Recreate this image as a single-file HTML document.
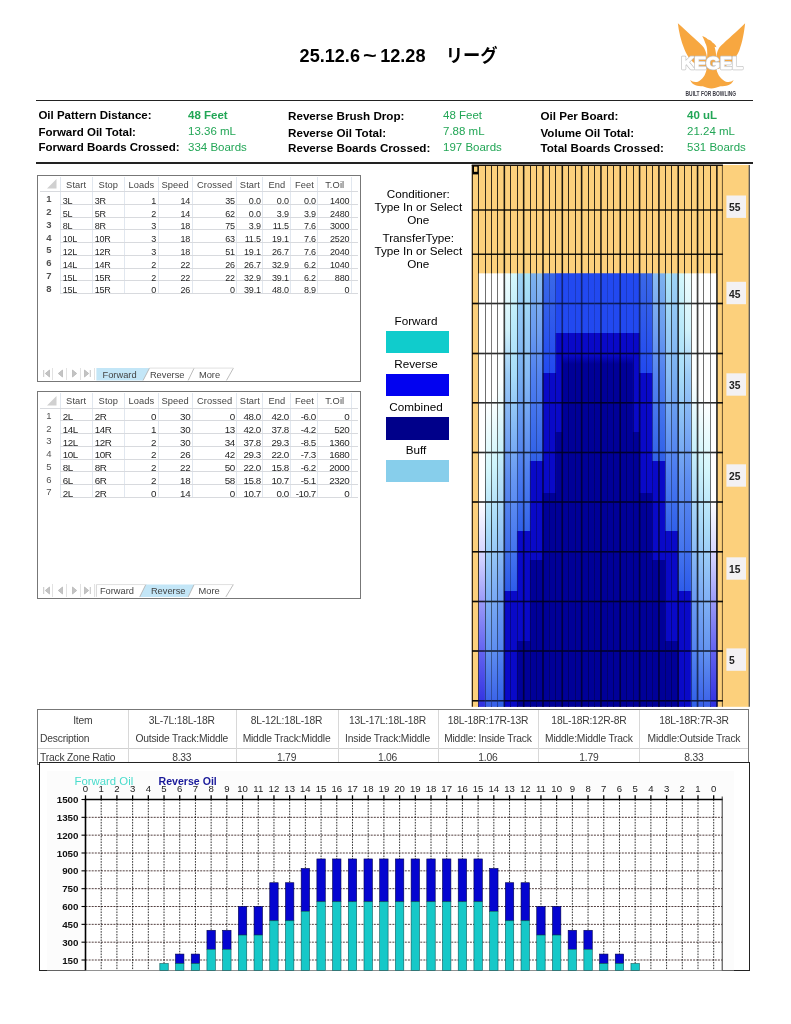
<!DOCTYPE html>
<html lang="ja"><head><meta charset="utf-8"><title>Kegel Oil Pattern</title>
<style>
html,body{margin:0;padding:0;background:#fff}
body{width:791px;height:1024px;position:relative;overflow:hidden;font-family:"Liberation Sans",sans-serif}

.title{position:absolute;left:0;top:44.1px;font:bold 18.1px "Liberation Sans","Noto Sans CJK JP",sans-serif;color:#000;white-space:nowrap;letter-spacing:0}
.title span{position:absolute;top:0;line-height:25px;transform:scaleY(1.05)}
.title .td{transform:scale(1.3,1.05);transform-origin:0 50%}
.title .jp{font-weight:bold;font-size:17.3px}
.rule{position:absolute;left:36.4px;width:716.5px;height:1.6px;background:#222}
.lab{position:absolute;font:bold 11.5px "Liberation Sans",sans-serif;color:#000;white-space:nowrap;line-height:15px}
.val{position:absolute;font:11.5px "Liberation Sans",sans-serif;color:#22a656;white-space:nowrap;line-height:15px}
.val.b{font-weight:bold}

.sheet{position:absolute;border:1px solid #777;background:#fff;box-sizing:border-box;overflow:hidden;font-family:"Liberation Sans",sans-serif;color:#333}
.sheet div{position:absolute;white-space:nowrap;line-height:12px;height:12px}
.sheet svg{position:absolute}
.hc{text-align:center;color:#444;font-size:9.3px;letter-spacing:0.1px}
.cl{text-align:left;padding-left:2.5px;box-sizing:border-box;color:#262626;font-size:9px}
.cr{text-align:right;padding-right:2.1px;box-sizing:border-box;color:#262626;font-size:9px}
.rn{text-align:center;color:#333;font-size:9.5px;font-weight:bold;-webkit-text-stroke:0;opacity:.85}
.sheet .vl{width:1px;background:#e1e7ef;height:auto}
.sheet .hl{height:1px;background:#d8dade}
.tab{font-size:9.3px;text-align:center;color:#444;line-height:13px !important;height:13px !important}
.sheet .thl{background:#c6e6f7;height:13px}
.sheet .nb{width:13.8px;height:12.4px;border-right:1px solid #e2e2e2;box-sizing:border-box}
.sheet .nb svg{left:2.5px;top:1.8px}

.ct{position:absolute;width:120px;text-align:center;font:11.7px "Liberation Sans",sans-serif;color:#000;line-height:15px;white-space:nowrap}
.sw{position:absolute;left:386.2px;width:62.9px}

.zt{position:absolute;border:1px solid #777;box-sizing:border-box;background:#fff}
.zh{position:absolute;height:1px;background:#d0d0d0}
.zv{position:absolute;width:1px;background:#d8d8d8}
.zc{position:absolute;font:10.3px "Liberation Sans",sans-serif;letter-spacing:-0.2px;color:#3c3c3c;text-align:center;line-height:14px;white-space:nowrap}
.cb{position:absolute;border:1.4px solid #222;box-sizing:border-box;background:#fff}
</style></head>
<body>
<!-- gen_head -->
<div class="title"><span style="left:299.6px">25.12.6</span><span class="td" style="left:363.2px">~</span><span style="left:380.2px">12.28</span><span class="jp" style="left:445.8px">リーグ</span></div>
<div class="rule" style="top:99.8px"></div>
<div class="rule" style="top:162.3px"></div>
<div class="lab" style="left:38.4px;top:108.1px;font-size:11.5px">Oil Pattern Distance:</div>
<div class="val b" style="left:188px;top:107.7px">48 Feet</div>
<div class="lab" style="left:288.0px;top:108.1px;font-size:11.65px">Reverse Brush Drop:</div>
<div class="val" style="left:443px;top:107.7px">48 Feet</div>
<div class="lab" style="left:540.5px;top:108.1px;font-size:11.6px">Oil Per Board:</div>
<div class="val b" style="left:687px;top:107.7px">40 uL</div>
<div class="lab" style="left:38.4px;top:124.6px;font-size:11.5px">Forward Oil Total:</div>
<div class="val" style="left:188px;top:123.6px">13.36 mL</div>
<div class="lab" style="left:288.0px;top:124.6px;font-size:11.65px">Reverse Oil Total:</div>
<div class="val" style="left:443px;top:123.6px">7.88 mL</div>
<div class="lab" style="left:540.5px;top:124.6px;font-size:11.6px">Volume Oil Total:</div>
<div class="val" style="left:687px;top:123.6px">21.24 mL</div>
<div class="lab" style="left:38.4px;top:140.2px;font-size:11.5px">Forward Boards Crossed:</div>
<div class="val" style="left:188px;top:140.1px">334 Boards</div>
<div class="lab" style="left:288.0px;top:140.2px;font-size:11.65px">Reverse Boards Crossed:</div>
<div class="val" style="left:443px;top:140.1px">197 Boards</div>
<div class="lab" style="left:540.5px;top:140.2px;font-size:11.6px">Total Boards Crossed:</div>
<div class="val" style="left:687px;top:140.1px">531 Boards</div>
<!-- gen_logo -->
<svg width="791" height="1024" viewBox="0 0 791 1024" style="position:absolute;left:0;top:0">
<g transform="translate(670 15) scale(0.10746)" fill="#f7a740">
<path d="M73 77C82 150 100 240 135 320C150 355 165 382 180 400C200 430 250 470 300 490L340 505L345 400C338 350 325 308 298 284C240 228 150 146 73 77Z"/>
<path d="M699 77C692 150 675 250 645 330C632 360 618 385 605 400C585 430 535 470 485 490L432 505L430 400C434 350 448 308 476 284C535 228 625 150 699 77Z"/>
<path d="M345 400C350 340 345 300 335 275C325 255 320 235 300 195C325 205 340 212 350 225C365 228 385 238 395 255C415 265 430 285 432 300L415 295C425 330 430 370 432 400Z"/>
<path d="M340 400L432 400L432 505C445 560 475 600 520 620C550 628 575 620 592 605C580 645 530 668 470 662C440 672 410 682 385 684C360 682 330 672 305 662C250 668 200 645 188 605C205 620 230 628 260 620C305 600 330 560 340 505Z"/>
</g>
<text x="681.3" y="69.2" font-family="Liberation Sans, sans-serif" font-weight="bold" font-size="17.2" textLength="61.5" lengthAdjust="spacingAndGlyphs" fill="#ffffff" stroke="#c2c2c2" stroke-width="2.3" stroke-linejoin="round">KEGEL</text>
<text x="681.3" y="69.2" font-family="Liberation Sans, sans-serif" font-weight="bold" font-size="17.2" textLength="61.5" lengthAdjust="spacingAndGlyphs" fill="#ffffff" stroke="#ffffff" stroke-width="1.0" stroke-linejoin="round">KEGEL</text>
<text x="685.6" y="96.2" font-family="Liberation Sans, sans-serif" font-weight="bold" font-size="6.8" textLength="50.5" lengthAdjust="spacingAndGlyphs" fill="#3a3a44">BUILT FOR BOWLING</text>
</svg>
<!-- gen_tables -->
<div class="sheet" style="left:37.2px;top:174.6px;width:324px;height:207.5px">
<svg class="corner" style="left:9.3px;top:3.5px" width="10" height="10"><path d="M9.5 0V9.5H0Z" fill="#d0d0d0"/></svg>
<div class="hc" style="left:22.0px;width:32.0px;top:3.0px">Start</div>
<div class="hc" style="left:54.0px;width:32.4px;top:3.0px">Stop</div>
<div class="hc" style="left:86.4px;width:33.5px;top:3.0px">Loads</div>
<div class="hc" style="left:119.9px;width:34.2px;top:3.0px">Speed</div>
<div class="hc" style="left:154.1px;width:44.7px;top:3.0px">Crossed</div>
<div class="hc" style="left:198.8px;width:25.9px;top:3.0px">Start</div>
<div class="hc" style="left:224.7px;width:28.0px;top:3.0px">End</div>
<div class="hc" style="left:252.7px;width:27.1px;top:3.0px">Feet</div>
<div class="hc" style="left:279.8px;width:33.4px;top:3.0px">T.Oil</div>
<div class="vl" style="left:21.5px;top:1.0px;height:117.1px"></div>
<div class="vl" style="left:53.5px;top:1.0px;height:117.1px"></div>
<div class="vl" style="left:85.9px;top:1.0px;height:117.1px"></div>
<div class="vl" style="left:119.4px;top:1.0px;height:117.1px"></div>
<div class="vl" style="left:153.6px;top:1.0px;height:117.1px"></div>
<div class="vl" style="left:198.3px;top:1.0px;height:117.1px"></div>
<div class="vl" style="left:224.2px;top:1.0px;height:117.1px"></div>
<div class="vl" style="left:252.2px;top:1.0px;height:117.1px"></div>
<div class="vl" style="left:279.3px;top:1.0px;height:117.1px"></div>
<div class="vl" style="left:312.7px;top:1.0px;height:117.1px"></div>
<div class="hl" style="left:1.8px;top:15.45px;width:318.5px"></div>
<div class="hl" style="left:22.0px;top:28.22px;width:298.3px"></div>
<div class="hl" style="left:22.0px;top:40.99px;width:298.3px"></div>
<div class="hl" style="left:22.0px;top:53.76px;width:298.3px"></div>
<div class="hl" style="left:22.0px;top:66.53px;width:298.3px"></div>
<div class="hl" style="left:22.0px;top:79.3px;width:298.3px"></div>
<div class="hl" style="left:22.0px;top:92.07px;width:298.3px"></div>
<div class="hl" style="left:22.0px;top:104.84px;width:298.3px"></div>
<div class="hl" style="left:22.0px;top:117.61px;width:298.3px"></div>
<div class="rn" style="left:1.8px;width:18px;top:17.72px;font-weight:bold">1</div>
<div class="cl" style="left:22.0px;width:32.0px;top:19.35px;font-size:9px;letter-spacing:-0.2px">3L</div>
<div class="cl" style="left:54.0px;width:32.4px;top:19.35px;font-size:9px;letter-spacing:-0.2px">3R</div>
<div class="cr" style="left:86.4px;width:33.5px;top:19.35px;font-size:9px;letter-spacing:-0.2px">1</div>
<div class="cr" style="left:119.9px;width:34.2px;top:19.35px;font-size:9px;letter-spacing:-0.2px">14</div>
<div class="cr" style="left:154.1px;width:44.7px;top:19.35px;font-size:9px;letter-spacing:-0.2px">35</div>
<div class="cr" style="left:198.8px;width:25.9px;top:19.35px;font-size:9px;letter-spacing:-0.2px">0.0</div>
<div class="cr" style="left:224.7px;width:28.0px;top:19.35px;font-size:9px;letter-spacing:-0.2px">0.0</div>
<div class="cr" style="left:252.7px;width:27.1px;top:19.35px;font-size:9px;letter-spacing:-0.2px">0.0</div>
<div class="cr" style="left:279.8px;width:33.4px;top:19.35px;font-size:9px;letter-spacing:-0.2px">1400</div>
<div class="rn" style="left:1.8px;width:18px;top:30.49px;font-weight:bold">2</div>
<div class="cl" style="left:22.0px;width:32.0px;top:32.12px;font-size:9px;letter-spacing:-0.2px">5L</div>
<div class="cl" style="left:54.0px;width:32.4px;top:32.12px;font-size:9px;letter-spacing:-0.2px">5R</div>
<div class="cr" style="left:86.4px;width:33.5px;top:32.12px;font-size:9px;letter-spacing:-0.2px">2</div>
<div class="cr" style="left:119.9px;width:34.2px;top:32.12px;font-size:9px;letter-spacing:-0.2px">14</div>
<div class="cr" style="left:154.1px;width:44.7px;top:32.12px;font-size:9px;letter-spacing:-0.2px">62</div>
<div class="cr" style="left:198.8px;width:25.9px;top:32.12px;font-size:9px;letter-spacing:-0.2px">0.0</div>
<div class="cr" style="left:224.7px;width:28.0px;top:32.12px;font-size:9px;letter-spacing:-0.2px">3.9</div>
<div class="cr" style="left:252.7px;width:27.1px;top:32.12px;font-size:9px;letter-spacing:-0.2px">3.9</div>
<div class="cr" style="left:279.8px;width:33.4px;top:32.12px;font-size:9px;letter-spacing:-0.2px">2480</div>
<div class="rn" style="left:1.8px;width:18px;top:43.26px;font-weight:bold">3</div>
<div class="cl" style="left:22.0px;width:32.0px;top:44.89px;font-size:9px;letter-spacing:-0.2px">8L</div>
<div class="cl" style="left:54.0px;width:32.4px;top:44.89px;font-size:9px;letter-spacing:-0.2px">8R</div>
<div class="cr" style="left:86.4px;width:33.5px;top:44.89px;font-size:9px;letter-spacing:-0.2px">3</div>
<div class="cr" style="left:119.9px;width:34.2px;top:44.89px;font-size:9px;letter-spacing:-0.2px">18</div>
<div class="cr" style="left:154.1px;width:44.7px;top:44.89px;font-size:9px;letter-spacing:-0.2px">75</div>
<div class="cr" style="left:198.8px;width:25.9px;top:44.89px;font-size:9px;letter-spacing:-0.2px">3.9</div>
<div class="cr" style="left:224.7px;width:28.0px;top:44.89px;font-size:9px;letter-spacing:-0.2px">11.5</div>
<div class="cr" style="left:252.7px;width:27.1px;top:44.89px;font-size:9px;letter-spacing:-0.2px">7.6</div>
<div class="cr" style="left:279.8px;width:33.4px;top:44.89px;font-size:9px;letter-spacing:-0.2px">3000</div>
<div class="rn" style="left:1.8px;width:18px;top:56.03px;font-weight:bold">4</div>
<div class="cl" style="left:22.0px;width:32.0px;top:57.66px;font-size:9px;letter-spacing:-0.2px">10L</div>
<div class="cl" style="left:54.0px;width:32.4px;top:57.66px;font-size:9px;letter-spacing:-0.2px">10R</div>
<div class="cr" style="left:86.4px;width:33.5px;top:57.66px;font-size:9px;letter-spacing:-0.2px">3</div>
<div class="cr" style="left:119.9px;width:34.2px;top:57.66px;font-size:9px;letter-spacing:-0.2px">18</div>
<div class="cr" style="left:154.1px;width:44.7px;top:57.66px;font-size:9px;letter-spacing:-0.2px">63</div>
<div class="cr" style="left:198.8px;width:25.9px;top:57.66px;font-size:9px;letter-spacing:-0.2px">11.5</div>
<div class="cr" style="left:224.7px;width:28.0px;top:57.66px;font-size:9px;letter-spacing:-0.2px">19.1</div>
<div class="cr" style="left:252.7px;width:27.1px;top:57.66px;font-size:9px;letter-spacing:-0.2px">7.6</div>
<div class="cr" style="left:279.8px;width:33.4px;top:57.66px;font-size:9px;letter-spacing:-0.2px">2520</div>
<div class="rn" style="left:1.8px;width:18px;top:68.8px;font-weight:bold">5</div>
<div class="cl" style="left:22.0px;width:32.0px;top:70.43px;font-size:9px;letter-spacing:-0.2px">12L</div>
<div class="cl" style="left:54.0px;width:32.4px;top:70.43px;font-size:9px;letter-spacing:-0.2px">12R</div>
<div class="cr" style="left:86.4px;width:33.5px;top:70.43px;font-size:9px;letter-spacing:-0.2px">3</div>
<div class="cr" style="left:119.9px;width:34.2px;top:70.43px;font-size:9px;letter-spacing:-0.2px">18</div>
<div class="cr" style="left:154.1px;width:44.7px;top:70.43px;font-size:9px;letter-spacing:-0.2px">51</div>
<div class="cr" style="left:198.8px;width:25.9px;top:70.43px;font-size:9px;letter-spacing:-0.2px">19.1</div>
<div class="cr" style="left:224.7px;width:28.0px;top:70.43px;font-size:9px;letter-spacing:-0.2px">26.7</div>
<div class="cr" style="left:252.7px;width:27.1px;top:70.43px;font-size:9px;letter-spacing:-0.2px">7.6</div>
<div class="cr" style="left:279.8px;width:33.4px;top:70.43px;font-size:9px;letter-spacing:-0.2px">2040</div>
<div class="rn" style="left:1.8px;width:18px;top:81.57px;font-weight:bold">6</div>
<div class="cl" style="left:22.0px;width:32.0px;top:83.2px;font-size:9px;letter-spacing:-0.2px">14L</div>
<div class="cl" style="left:54.0px;width:32.4px;top:83.2px;font-size:9px;letter-spacing:-0.2px">14R</div>
<div class="cr" style="left:86.4px;width:33.5px;top:83.2px;font-size:9px;letter-spacing:-0.2px">2</div>
<div class="cr" style="left:119.9px;width:34.2px;top:83.2px;font-size:9px;letter-spacing:-0.2px">22</div>
<div class="cr" style="left:154.1px;width:44.7px;top:83.2px;font-size:9px;letter-spacing:-0.2px">26</div>
<div class="cr" style="left:198.8px;width:25.9px;top:83.2px;font-size:9px;letter-spacing:-0.2px">26.7</div>
<div class="cr" style="left:224.7px;width:28.0px;top:83.2px;font-size:9px;letter-spacing:-0.2px">32.9</div>
<div class="cr" style="left:252.7px;width:27.1px;top:83.2px;font-size:9px;letter-spacing:-0.2px">6.2</div>
<div class="cr" style="left:279.8px;width:33.4px;top:83.2px;font-size:9px;letter-spacing:-0.2px">1040</div>
<div class="rn" style="left:1.8px;width:18px;top:94.34px;font-weight:bold">7</div>
<div class="cl" style="left:22.0px;width:32.0px;top:95.97px;font-size:9px;letter-spacing:-0.2px">15L</div>
<div class="cl" style="left:54.0px;width:32.4px;top:95.97px;font-size:9px;letter-spacing:-0.2px">15R</div>
<div class="cr" style="left:86.4px;width:33.5px;top:95.97px;font-size:9px;letter-spacing:-0.2px">2</div>
<div class="cr" style="left:119.9px;width:34.2px;top:95.97px;font-size:9px;letter-spacing:-0.2px">22</div>
<div class="cr" style="left:154.1px;width:44.7px;top:95.97px;font-size:9px;letter-spacing:-0.2px">22</div>
<div class="cr" style="left:198.8px;width:25.9px;top:95.97px;font-size:9px;letter-spacing:-0.2px">32.9</div>
<div class="cr" style="left:224.7px;width:28.0px;top:95.97px;font-size:9px;letter-spacing:-0.2px">39.1</div>
<div class="cr" style="left:252.7px;width:27.1px;top:95.97px;font-size:9px;letter-spacing:-0.2px">6.2</div>
<div class="cr" style="left:279.8px;width:33.4px;top:95.97px;font-size:9px;letter-spacing:-0.2px">880</div>
<div class="rn" style="left:1.8px;width:18px;top:107.11px;font-weight:bold">8</div>
<div class="cl" style="left:22.0px;width:32.0px;top:108.74px;font-size:9px;letter-spacing:-0.2px">15L</div>
<div class="cl" style="left:54.0px;width:32.4px;top:108.74px;font-size:9px;letter-spacing:-0.2px">15R</div>
<div class="cr" style="left:86.4px;width:33.5px;top:108.74px;font-size:9px;letter-spacing:-0.2px">0</div>
<div class="cr" style="left:119.9px;width:34.2px;top:108.74px;font-size:9px;letter-spacing:-0.2px">26</div>
<div class="cr" style="left:154.1px;width:44.7px;top:108.74px;font-size:9px;letter-spacing:-0.2px">0</div>
<div class="cr" style="left:198.8px;width:25.9px;top:108.74px;font-size:9px;letter-spacing:-0.2px">39.1</div>
<div class="cr" style="left:224.7px;width:28.0px;top:108.74px;font-size:9px;letter-spacing:-0.2px">48.0</div>
<div class="cr" style="left:252.7px;width:27.1px;top:108.74px;font-size:9px;letter-spacing:-0.2px">8.9</div>
<div class="cr" style="left:279.8px;width:33.4px;top:108.74px;font-size:9px;letter-spacing:-0.2px">0</div>
<div class="nb" style="left:1.4px;top:192.1px"><svg width="9" height="9" viewBox="0 0 8 9"><path d="M1.2 1V8M7 1L2.8 4.5L7 8Z" fill="#c4c4c4" stroke="#b8b8b8" stroke-width="0.8"/></svg></div>
<div class="nb" style="left:15.2px;top:192.1px"><svg width="9" height="9" viewBox="0 0 8 9"><path d="M6 1L1.8 4.5L6 8Z" fill="#c4c4c4" stroke="#b8b8b8" stroke-width="0.8"/></svg></div>
<div class="nb" style="left:29.0px;top:192.1px"><svg width="9" height="9" viewBox="0 0 8 9"><path d="M2 1L6.2 4.5L2 8Z" fill="#c4c4c4" stroke="#b8b8b8" stroke-width="0.8"/></svg></div>
<div class="nb" style="left:42.8px;top:192.1px"><svg width="9" height="9" viewBox="0 0 8 9"><path d="M6.8 1V8M1 1L5.2 4.5L1 8Z" fill="#c4c4c4" stroke="#b8b8b8" stroke-width="0.8"/></svg></div>
<svg style="left:0;top:0" width="324" height="207.5" viewBox="0 0 324 207.5"><polygon points="58.4,192.1 111.5,192.1 105.1,204.4 58.4,204.4" fill="#c3e6f7"/><line x1="105.1" y1="204.4" x2="111.5" y2="192.1" stroke="#b4b4b4" stroke-width="0.9"/><line x1="150.2" y1="204.4" x2="156.1" y2="192.1" stroke="#b4b4b4" stroke-width="0.9"/><line x1="188.5" y1="204.4" x2="195.4" y2="192.1" stroke="#b4b4b4" stroke-width="0.9"/><line x1="111.5" y1="192.1" x2="156.1" y2="192.1" stroke="#dcdcdc" stroke-width="0.9"/><line x1="156.1" y1="192.1" x2="195.4" y2="192.1" stroke="#dcdcdc" stroke-width="0.9"/></svg>
<div class="tab" style="left:56.4px;top:193.1px;width:50px">Forward</div>
<div class="tab" style="left:104.0px;top:193.1px;width:50px">Reverse</div>
<div class="tab" style="left:146.3px;top:193.1px;width:50px">More</div>
</div>
<div class="sheet" style="left:37.2px;top:390.8px;width:324px;height:208.7px">
<svg class="corner" style="left:9.3px;top:3.9px" width="10" height="10"><path d="M9.5 0V9.5H0Z" fill="#d0d0d0"/></svg>
<div class="hc" style="left:22.0px;width:32.0px;top:3.4px">Start</div>
<div class="hc" style="left:54.0px;width:32.4px;top:3.4px">Stop</div>
<div class="hc" style="left:86.4px;width:33.5px;top:3.4px">Loads</div>
<div class="hc" style="left:119.9px;width:34.2px;top:3.4px">Speed</div>
<div class="hc" style="left:154.1px;width:44.7px;top:3.4px">Crossed</div>
<div class="hc" style="left:198.8px;width:25.9px;top:3.4px">Start</div>
<div class="hc" style="left:224.7px;width:28.0px;top:3.4px">End</div>
<div class="hc" style="left:252.7px;width:27.1px;top:3.4px">Feet</div>
<div class="hc" style="left:279.8px;width:33.4px;top:3.4px">T.Oil</div>
<div class="vl" style="left:21.5px;top:1.0px;height:104.6px"></div>
<div class="vl" style="left:53.5px;top:1.0px;height:104.6px"></div>
<div class="vl" style="left:85.9px;top:1.0px;height:104.6px"></div>
<div class="vl" style="left:119.4px;top:1.0px;height:104.6px"></div>
<div class="vl" style="left:153.6px;top:1.0px;height:104.6px"></div>
<div class="vl" style="left:198.3px;top:1.0px;height:104.6px"></div>
<div class="vl" style="left:224.2px;top:1.0px;height:104.6px"></div>
<div class="vl" style="left:252.2px;top:1.0px;height:104.6px"></div>
<div class="vl" style="left:279.3px;top:1.0px;height:104.6px"></div>
<div class="vl" style="left:312.7px;top:1.0px;height:104.6px"></div>
<div class="hl" style="left:1.8px;top:15.75px;width:318.5px"></div>
<div class="hl" style="left:22.0px;top:28.52px;width:298.3px"></div>
<div class="hl" style="left:22.0px;top:41.29px;width:298.3px"></div>
<div class="hl" style="left:22.0px;top:54.06px;width:298.3px"></div>
<div class="hl" style="left:22.0px;top:66.83px;width:298.3px"></div>
<div class="hl" style="left:22.0px;top:79.6px;width:298.3px"></div>
<div class="hl" style="left:22.0px;top:92.37px;width:298.3px"></div>
<div class="hl" style="left:22.0px;top:105.14px;width:298.3px"></div>
<div class="rn" style="left:1.8px;width:18px;top:18.02px;font-weight:normal">1</div>
<div class="cl" style="left:22.0px;width:32.0px;top:19.37px;font-size:9.8px;letter-spacing:-0.42px">2L</div>
<div class="cl" style="left:54.0px;width:32.4px;top:19.37px;font-size:9.8px;letter-spacing:-0.42px">2R</div>
<div class="cr" style="left:86.4px;width:33.5px;top:19.37px;font-size:9.8px;letter-spacing:-0.42px">0</div>
<div class="cr" style="left:119.9px;width:34.2px;top:19.37px;font-size:9.8px;letter-spacing:-0.42px">30</div>
<div class="cr" style="left:154.1px;width:44.7px;top:19.37px;font-size:9.8px;letter-spacing:-0.42px">0</div>
<div class="cr" style="left:198.8px;width:25.9px;top:19.37px;font-size:9.8px;letter-spacing:-0.42px">48.0</div>
<div class="cr" style="left:224.7px;width:28.0px;top:19.37px;font-size:9.8px;letter-spacing:-0.42px">42.0</div>
<div class="cr" style="left:252.7px;width:27.1px;top:19.37px;font-size:9.8px;letter-spacing:-0.42px">-6.0</div>
<div class="cr" style="left:279.8px;width:33.4px;top:19.37px;font-size:9.8px;letter-spacing:-0.42px">0</div>
<div class="rn" style="left:1.8px;width:18px;top:30.79px;font-weight:normal">2</div>
<div class="cl" style="left:22.0px;width:32.0px;top:32.14px;font-size:9.8px;letter-spacing:-0.42px">14L</div>
<div class="cl" style="left:54.0px;width:32.4px;top:32.14px;font-size:9.8px;letter-spacing:-0.42px">14R</div>
<div class="cr" style="left:86.4px;width:33.5px;top:32.14px;font-size:9.8px;letter-spacing:-0.42px">1</div>
<div class="cr" style="left:119.9px;width:34.2px;top:32.14px;font-size:9.8px;letter-spacing:-0.42px">30</div>
<div class="cr" style="left:154.1px;width:44.7px;top:32.14px;font-size:9.8px;letter-spacing:-0.42px">13</div>
<div class="cr" style="left:198.8px;width:25.9px;top:32.14px;font-size:9.8px;letter-spacing:-0.42px">42.0</div>
<div class="cr" style="left:224.7px;width:28.0px;top:32.14px;font-size:9.8px;letter-spacing:-0.42px">37.8</div>
<div class="cr" style="left:252.7px;width:27.1px;top:32.14px;font-size:9.8px;letter-spacing:-0.42px">-4.2</div>
<div class="cr" style="left:279.8px;width:33.4px;top:32.14px;font-size:9.8px;letter-spacing:-0.42px">520</div>
<div class="rn" style="left:1.8px;width:18px;top:43.56px;font-weight:normal">3</div>
<div class="cl" style="left:22.0px;width:32.0px;top:44.91px;font-size:9.8px;letter-spacing:-0.42px">12L</div>
<div class="cl" style="left:54.0px;width:32.4px;top:44.91px;font-size:9.8px;letter-spacing:-0.42px">12R</div>
<div class="cr" style="left:86.4px;width:33.5px;top:44.91px;font-size:9.8px;letter-spacing:-0.42px">2</div>
<div class="cr" style="left:119.9px;width:34.2px;top:44.91px;font-size:9.8px;letter-spacing:-0.42px">30</div>
<div class="cr" style="left:154.1px;width:44.7px;top:44.91px;font-size:9.8px;letter-spacing:-0.42px">34</div>
<div class="cr" style="left:198.8px;width:25.9px;top:44.91px;font-size:9.8px;letter-spacing:-0.42px">37.8</div>
<div class="cr" style="left:224.7px;width:28.0px;top:44.91px;font-size:9.8px;letter-spacing:-0.42px">29.3</div>
<div class="cr" style="left:252.7px;width:27.1px;top:44.91px;font-size:9.8px;letter-spacing:-0.42px">-8.5</div>
<div class="cr" style="left:279.8px;width:33.4px;top:44.91px;font-size:9.8px;letter-spacing:-0.42px">1360</div>
<div class="rn" style="left:1.8px;width:18px;top:56.33px;font-weight:normal">4</div>
<div class="cl" style="left:22.0px;width:32.0px;top:57.68px;font-size:9.8px;letter-spacing:-0.42px">10L</div>
<div class="cl" style="left:54.0px;width:32.4px;top:57.68px;font-size:9.8px;letter-spacing:-0.42px">10R</div>
<div class="cr" style="left:86.4px;width:33.5px;top:57.68px;font-size:9.8px;letter-spacing:-0.42px">2</div>
<div class="cr" style="left:119.9px;width:34.2px;top:57.68px;font-size:9.8px;letter-spacing:-0.42px">26</div>
<div class="cr" style="left:154.1px;width:44.7px;top:57.68px;font-size:9.8px;letter-spacing:-0.42px">42</div>
<div class="cr" style="left:198.8px;width:25.9px;top:57.68px;font-size:9.8px;letter-spacing:-0.42px">29.3</div>
<div class="cr" style="left:224.7px;width:28.0px;top:57.68px;font-size:9.8px;letter-spacing:-0.42px">22.0</div>
<div class="cr" style="left:252.7px;width:27.1px;top:57.68px;font-size:9.8px;letter-spacing:-0.42px">-7.3</div>
<div class="cr" style="left:279.8px;width:33.4px;top:57.68px;font-size:9.8px;letter-spacing:-0.42px">1680</div>
<div class="rn" style="left:1.8px;width:18px;top:69.1px;font-weight:normal">5</div>
<div class="cl" style="left:22.0px;width:32.0px;top:70.45px;font-size:9.8px;letter-spacing:-0.42px">8L</div>
<div class="cl" style="left:54.0px;width:32.4px;top:70.45px;font-size:9.8px;letter-spacing:-0.42px">8R</div>
<div class="cr" style="left:86.4px;width:33.5px;top:70.45px;font-size:9.8px;letter-spacing:-0.42px">2</div>
<div class="cr" style="left:119.9px;width:34.2px;top:70.45px;font-size:9.8px;letter-spacing:-0.42px">22</div>
<div class="cr" style="left:154.1px;width:44.7px;top:70.45px;font-size:9.8px;letter-spacing:-0.42px">50</div>
<div class="cr" style="left:198.8px;width:25.9px;top:70.45px;font-size:9.8px;letter-spacing:-0.42px">22.0</div>
<div class="cr" style="left:224.7px;width:28.0px;top:70.45px;font-size:9.8px;letter-spacing:-0.42px">15.8</div>
<div class="cr" style="left:252.7px;width:27.1px;top:70.45px;font-size:9.8px;letter-spacing:-0.42px">-6.2</div>
<div class="cr" style="left:279.8px;width:33.4px;top:70.45px;font-size:9.8px;letter-spacing:-0.42px">2000</div>
<div class="rn" style="left:1.8px;width:18px;top:81.87px;font-weight:normal">6</div>
<div class="cl" style="left:22.0px;width:32.0px;top:83.22px;font-size:9.8px;letter-spacing:-0.42px">6L</div>
<div class="cl" style="left:54.0px;width:32.4px;top:83.22px;font-size:9.8px;letter-spacing:-0.42px">6R</div>
<div class="cr" style="left:86.4px;width:33.5px;top:83.22px;font-size:9.8px;letter-spacing:-0.42px">2</div>
<div class="cr" style="left:119.9px;width:34.2px;top:83.22px;font-size:9.8px;letter-spacing:-0.42px">18</div>
<div class="cr" style="left:154.1px;width:44.7px;top:83.22px;font-size:9.8px;letter-spacing:-0.42px">58</div>
<div class="cr" style="left:198.8px;width:25.9px;top:83.22px;font-size:9.8px;letter-spacing:-0.42px">15.8</div>
<div class="cr" style="left:224.7px;width:28.0px;top:83.22px;font-size:9.8px;letter-spacing:-0.42px">10.7</div>
<div class="cr" style="left:252.7px;width:27.1px;top:83.22px;font-size:9.8px;letter-spacing:-0.42px">-5.1</div>
<div class="cr" style="left:279.8px;width:33.4px;top:83.22px;font-size:9.8px;letter-spacing:-0.42px">2320</div>
<div class="rn" style="left:1.8px;width:18px;top:94.64px;font-weight:normal">7</div>
<div class="cl" style="left:22.0px;width:32.0px;top:95.99px;font-size:9.8px;letter-spacing:-0.42px">2L</div>
<div class="cl" style="left:54.0px;width:32.4px;top:95.99px;font-size:9.8px;letter-spacing:-0.42px">2R</div>
<div class="cr" style="left:86.4px;width:33.5px;top:95.99px;font-size:9.8px;letter-spacing:-0.42px">0</div>
<div class="cr" style="left:119.9px;width:34.2px;top:95.99px;font-size:9.8px;letter-spacing:-0.42px">14</div>
<div class="cr" style="left:154.1px;width:44.7px;top:95.99px;font-size:9.8px;letter-spacing:-0.42px">0</div>
<div class="cr" style="left:198.8px;width:25.9px;top:95.99px;font-size:9.8px;letter-spacing:-0.42px">10.7</div>
<div class="cr" style="left:224.7px;width:28.0px;top:95.99px;font-size:9.8px;letter-spacing:-0.42px">0.0</div>
<div class="cr" style="left:252.7px;width:27.1px;top:95.99px;font-size:9.8px;letter-spacing:-0.42px">-10.7</div>
<div class="cr" style="left:279.8px;width:33.4px;top:95.99px;font-size:9.8px;letter-spacing:-0.42px">0</div>
<div class="nb" style="left:1.4px;top:192.6px"><svg width="9" height="9" viewBox="0 0 8 9"><path d="M1.2 1V8M7 1L2.8 4.5L7 8Z" fill="#c4c4c4" stroke="#b8b8b8" stroke-width="0.8"/></svg></div>
<div class="nb" style="left:15.2px;top:192.6px"><svg width="9" height="9" viewBox="0 0 8 9"><path d="M6 1L1.8 4.5L6 8Z" fill="#c4c4c4" stroke="#b8b8b8" stroke-width="0.8"/></svg></div>
<div class="nb" style="left:29.0px;top:192.6px"><svg width="9" height="9" viewBox="0 0 8 9"><path d="M2 1L6.2 4.5L2 8Z" fill="#c4c4c4" stroke="#b8b8b8" stroke-width="0.8"/></svg></div>
<div class="nb" style="left:42.8px;top:192.6px"><svg width="9" height="9" viewBox="0 0 8 9"><path d="M6.8 1V8M1 1L5.2 4.5L1 8Z" fill="#c4c4c4" stroke="#b8b8b8" stroke-width="0.8"/></svg></div>
<svg style="left:0;top:0" width="324" height="208.7" viewBox="0 0 324 208.7"><polygon points="107.8,192.6 156.1,192.6 150.2,204.9 101.7,204.9" fill="#c3e6f7"/><line x1="101.7" y1="204.9" x2="107.8" y2="192.6" stroke="#b4b4b4" stroke-width="0.9"/><line x1="150.2" y1="204.9" x2="156.1" y2="192.6" stroke="#b4b4b4" stroke-width="0.9"/><line x1="187.9" y1="204.9" x2="195.3" y2="192.6" stroke="#b4b4b4" stroke-width="0.9"/><line x1="58.4" y1="192.6" x2="107.8" y2="192.6" stroke="#dcdcdc" stroke-width="0.9"/><line x1="156.1" y1="192.6" x2="195.3" y2="192.6" stroke="#dcdcdc" stroke-width="0.9"/><line x1="58.4" y1="192.6" x2="58.4" y2="204.9" stroke="#d0d0d0" stroke-width="0.9"/></svg>
<div class="tab" style="left:53.8px;top:193.6px;width:50px">Forward</div>
<div class="tab" style="left:105.0px;top:193.6px;width:50px">Reverse</div>
<div class="tab" style="left:146.0px;top:193.6px;width:50px">More</div>
</div>
<!-- gen_mid -->
<div class="ct" style="left:358.3px;top:186.2px">Conditioner:</div>
<div class="ct" style="left:358.3px;top:199.2px">Type In or Select</div>
<div class="ct" style="left:358.3px;top:211.8px">One</div>
<div class="ct" style="left:358.3px;top:229.7px">TransferType:</div>
<div class="ct" style="left:358.3px;top:243.4px">Type In or Select</div>
<div class="ct" style="left:358.3px;top:255.9px">One</div>
<div class="ct" style="left:356px;top:313.2px">Forward</div>
<div class="sw" style="top:331.2px;height:21.7px;background:#10cccc"></div>
<div class="ct" style="left:356px;top:355.6px">Reverse</div>
<div class="sw" style="top:373.7px;height:22.0px;background:#0202f0"></div>
<div class="ct" style="left:356px;top:399.0px">Combined</div>
<div class="sw" style="top:417.4px;height:22.2px;background:#00008a"></div>
<div class="ct" style="left:356px;top:441.8px">Buff</div>
<div class="sw" style="top:459.5px;height:22.2px;background:#87ceeb"></div>
<!-- gen_lane -->
<svg class="lane" width="791" height="1024" viewBox="0 0 791 1024" style="position:absolute;left:0;top:0">
<defs>
<linearGradient id="g2" gradientUnits="userSpaceOnUse" x1="0" y1="273.4" x2="0" y2="706.0">
<stop offset="0.0000" stop-color="#ffffff"/>
<stop offset="0.5238" stop-color="#ffffff"/>
<stop offset="0.6625" stop-color="#d0d0ff"/>
<stop offset="0.7550" stop-color="#9c9cf8"/>
<stop offset="0.8706" stop-color="#6464f0"/>
<stop offset="1.0000" stop-color="#3030e0"/>
</linearGradient>
<linearGradient id="g3" gradientUnits="userSpaceOnUse" x1="0" y1="273.4" x2="0" y2="706.0">
<stop offset="0.0000" stop-color="#ffffff"/>
<stop offset="0.2926" stop-color="#ffffff"/>
<stop offset="0.4545" stop-color="#d4f7fc"/>
<stop offset="0.5932" stop-color="#aadcf8"/>
<stop offset="0.7319" stop-color="#86b6f6"/>
<stop offset="0.8706" stop-color="#6494f0"/>
<stop offset="1.0000" stop-color="#3a60e8"/>
</linearGradient>
<linearGradient id="g4" gradientUnits="userSpaceOnUse" x1="0" y1="273.4" x2="0" y2="706.0">
<stop offset="0.0000" stop-color="#ffffff"/>
<stop offset="0.2811" stop-color="#ffffff"/>
<stop offset="0.4429" stop-color="#cef4fb"/>
<stop offset="0.5932" stop-color="#a4d6f8"/>
<stop offset="0.7319" stop-color="#7eaef4"/>
<stop offset="0.8706" stop-color="#5e8ef0"/>
<stop offset="1.0000" stop-color="#3860e8"/>
</linearGradient>
<linearGradient id="g5" gradientUnits="userSpaceOnUse" x1="0" y1="273.4" x2="0" y2="706.0">
<stop offset="0.0000" stop-color="#ffffff"/>
<stop offset="0.2464" stop-color="#fbffff"/>
<stop offset="0.4082" stop-color="#c8f0fa"/>
<stop offset="0.5932" stop-color="#98c8f6"/>
<stop offset="0.7319" stop-color="#70a0f2"/>
<stop offset="0.8706" stop-color="#5484f0"/>
<stop offset="1.0000" stop-color="#3060e8"/>
</linearGradient>
<linearGradient id="g6" gradientUnits="userSpaceOnUse" x1="0" y1="273.4" x2="0" y2="706.0">
<stop offset="0.0000" stop-color="#eefdfe"/>
<stop offset="0.1308" stop-color="#d0f2fb"/>
<stop offset="0.2349" stop-color="#9cccf6"/>
<stop offset="0.3620" stop-color="#7aaaf4"/>
<stop offset="0.4776" stop-color="#5c8cf0"/>
<stop offset="0.6625" stop-color="#3c6aec"/>
<stop offset="0.7353" stop-color="#2c5aea"/>
<stop offset="0.7353" stop-color="#0909c8"/>
<stop offset="1.0000" stop-color="#0909c8"/>
</linearGradient>
<linearGradient id="g7" gradientUnits="userSpaceOnUse" x1="0" y1="273.4" x2="0" y2="706.0">
<stop offset="0.0000" stop-color="#d5f8fc"/>
<stop offset="0.1308" stop-color="#b8e8f9"/>
<stop offset="0.2349" stop-color="#a8dcf8"/>
<stop offset="0.3620" stop-color="#84b8f4"/>
<stop offset="0.4776" stop-color="#6696f2"/>
<stop offset="0.6625" stop-color="#4070ee"/>
<stop offset="0.7353" stop-color="#2e5cea"/>
<stop offset="0.7353" stop-color="#0909c8"/>
<stop offset="1.0000" stop-color="#0909c8"/>
</linearGradient>
<linearGradient id="g8" gradientUnits="userSpaceOnUse" x1="0" y1="273.4" x2="0" y2="706.0">
<stop offset="0.0000" stop-color="#9fd4f5"/>
<stop offset="0.1308" stop-color="#8cc0f4"/>
<stop offset="0.2349" stop-color="#78aef0"/>
<stop offset="0.4545" stop-color="#4c7cf0"/>
<stop offset="0.5966" stop-color="#3060ea"/>
<stop offset="0.5966" stop-color="#0909c8"/>
<stop offset="0.8497" stop-color="#0909c8"/>
<stop offset="0.8497" stop-color="#000098"/>
<stop offset="1.0000" stop-color="#000098"/>
</linearGradient>
<linearGradient id="g9" gradientUnits="userSpaceOnUse" x1="0" y1="273.4" x2="0" y2="706.0">
<stop offset="0.0000" stop-color="#aee6f7"/>
<stop offset="0.1308" stop-color="#98ccf5"/>
<stop offset="0.2349" stop-color="#88bcf4"/>
<stop offset="0.4545" stop-color="#5282f0"/>
<stop offset="0.5966" stop-color="#3464ea"/>
<stop offset="0.5966" stop-color="#0909c8"/>
<stop offset="0.8497" stop-color="#0909c8"/>
<stop offset="0.8497" stop-color="#000098"/>
<stop offset="1.0000" stop-color="#000098"/>
</linearGradient>
<linearGradient id="g10" gradientUnits="userSpaceOnUse" x1="0" y1="273.4" x2="0" y2="706.0">
<stop offset="0.0000" stop-color="#7db2ef"/>
<stop offset="0.1308" stop-color="#6a9cf0"/>
<stop offset="0.2349" stop-color="#5080f0"/>
<stop offset="0.4337" stop-color="#3060e8"/>
<stop offset="0.4337" stop-color="#0909c8"/>
<stop offset="0.6625" stop-color="#0909c8"/>
<stop offset="0.6625" stop-color="#000098"/>
<stop offset="1.0000" stop-color="#000098"/>
</linearGradient>
<linearGradient id="g11" gradientUnits="userSpaceOnUse" x1="0" y1="273.4" x2="0" y2="706.0">
<stop offset="0.0000" stop-color="#8abcf3"/>
<stop offset="0.1308" stop-color="#70a0f0"/>
<stop offset="0.2349" stop-color="#5484f0"/>
<stop offset="0.4337" stop-color="#3262e8"/>
<stop offset="0.4337" stop-color="#0909c8"/>
<stop offset="0.6625" stop-color="#0909c8"/>
<stop offset="0.6625" stop-color="#000098"/>
<stop offset="1.0000" stop-color="#000098"/>
</linearGradient>
<linearGradient id="g12" gradientUnits="userSpaceOnUse" x1="0" y1="273.4" x2="0" y2="706.0">
<stop offset="0.0000" stop-color="#3a68e8"/>
<stop offset="0.2302" stop-color="#2249f0"/>
<stop offset="0.2302" stop-color="#0909c8"/>
<stop offset="0.5076" stop-color="#0909c8"/>
<stop offset="0.5076" stop-color="#000098"/>
<stop offset="1.0000" stop-color="#000098"/>
</linearGradient>
<linearGradient id="g13" gradientUnits="userSpaceOnUse" x1="0" y1="273.4" x2="0" y2="706.0">
<stop offset="0.0000" stop-color="#3a68e8"/>
<stop offset="0.2302" stop-color="#2249f0"/>
<stop offset="0.2302" stop-color="#0909c8"/>
<stop offset="0.5076" stop-color="#0909c8"/>
<stop offset="0.5076" stop-color="#000098"/>
<stop offset="1.0000" stop-color="#000098"/>
</linearGradient>
<linearGradient id="g14" gradientUnits="userSpaceOnUse" x1="0" y1="273.4" x2="0" y2="706.0">
<stop offset="0.0000" stop-color="#2249f0"/>
<stop offset="0.1378" stop-color="#2249f0"/>
<stop offset="0.1378" stop-color="#0909c8"/>
<stop offset="0.3666" stop-color="#0909c8"/>
<stop offset="0.3666" stop-color="#000098"/>
<stop offset="1.0000" stop-color="#000098"/>
</linearGradient>
<linearGradient id="g15" gradientUnits="userSpaceOnUse" x1="0" y1="273.4" x2="0" y2="706.0">
<stop offset="0.0000" stop-color="#2249f0"/>
<stop offset="0.1378" stop-color="#2249f0"/>
<stop offset="0.1378" stop-color="#0909c8"/>
<stop offset="0.1886" stop-color="#0909c8"/>
<stop offset="0.2094" stop-color="#000098"/>
<stop offset="1.0000" stop-color="#000098"/>
</linearGradient>
<linearGradient id="g16" gradientUnits="userSpaceOnUse" x1="0" y1="273.4" x2="0" y2="706.0">
<stop offset="0.0000" stop-color="#2249f0"/>
<stop offset="0.1378" stop-color="#2249f0"/>
<stop offset="0.1378" stop-color="#0909c8"/>
<stop offset="0.1886" stop-color="#0909c8"/>
<stop offset="0.2094" stop-color="#000098"/>
<stop offset="1.0000" stop-color="#000098"/>
</linearGradient>
<linearGradient id="g17" gradientUnits="userSpaceOnUse" x1="0" y1="273.4" x2="0" y2="706.0">
<stop offset="0.0000" stop-color="#2249f0"/>
<stop offset="0.1378" stop-color="#2249f0"/>
<stop offset="0.1378" stop-color="#0909c8"/>
<stop offset="0.1886" stop-color="#0909c8"/>
<stop offset="0.2094" stop-color="#000098"/>
<stop offset="1.0000" stop-color="#000098"/>
</linearGradient>
<linearGradient id="g18" gradientUnits="userSpaceOnUse" x1="0" y1="273.4" x2="0" y2="706.0">
<stop offset="0.0000" stop-color="#2249f0"/>
<stop offset="0.1378" stop-color="#2249f0"/>
<stop offset="0.1378" stop-color="#0909c8"/>
<stop offset="0.1886" stop-color="#0909c8"/>
<stop offset="0.2094" stop-color="#000098"/>
<stop offset="1.0000" stop-color="#000098"/>
</linearGradient>
<linearGradient id="g19" gradientUnits="userSpaceOnUse" x1="0" y1="273.4" x2="0" y2="706.0">
<stop offset="0.0000" stop-color="#2249f0"/>
<stop offset="0.1378" stop-color="#2249f0"/>
<stop offset="0.1378" stop-color="#0909c8"/>
<stop offset="0.1886" stop-color="#0909c8"/>
<stop offset="0.2094" stop-color="#000098"/>
<stop offset="1.0000" stop-color="#000098"/>
</linearGradient>
<linearGradient id="g20" gradientUnits="userSpaceOnUse" x1="0" y1="273.4" x2="0" y2="706.0">
<stop offset="0.0000" stop-color="#2249f0"/>
<stop offset="0.1378" stop-color="#2249f0"/>
<stop offset="0.1378" stop-color="#0909c8"/>
<stop offset="0.1886" stop-color="#0909c8"/>
<stop offset="0.2094" stop-color="#000098"/>
<stop offset="1.0000" stop-color="#000098"/>
</linearGradient>
<linearGradient id="h2" gradientUnits="userSpaceOnUse" x1="0" y1="273.4" x2="0" y2="706.0">
<stop offset="0.0000" stop-color="#ffffff" stop-opacity="0.22"/>
<stop offset="0.5238" stop-color="#ffffff" stop-opacity="0.22"/>
<stop offset="0.6625" stop-color="#d0d0ff" stop-opacity="0.03"/>
<stop offset="0.7550" stop-color="#9c9cf8" stop-opacity="0.21"/>
<stop offset="0.8706" stop-color="#6464f0" stop-opacity="0.40"/>
<stop offset="1.0000" stop-color="#3030e0" stop-opacity="0.54"/>
</linearGradient>
<linearGradient id="h3" gradientUnits="userSpaceOnUse" x1="0" y1="273.4" x2="0" y2="706.0">
<stop offset="0.0000" stop-color="#ffffff" stop-opacity="0.22"/>
<stop offset="0.2926" stop-color="#ffffff" stop-opacity="0.22"/>
<stop offset="0.4545" stop-color="#d4f7fc" stop-opacity="0.22"/>
<stop offset="0.5932" stop-color="#aadcf8" stop-opacity="0.05"/>
<stop offset="0.7319" stop-color="#86b6f6" stop-opacity="0.19"/>
<stop offset="0.8706" stop-color="#6494f0" stop-opacity="0.30"/>
<stop offset="1.0000" stop-color="#3a60e8" stop-opacity="0.46"/>
</linearGradient>
<linearGradient id="h4" gradientUnits="userSpaceOnUse" x1="0" y1="273.4" x2="0" y2="706.0">
<stop offset="0.0000" stop-color="#ffffff" stop-opacity="0.22"/>
<stop offset="0.2811" stop-color="#ffffff" stop-opacity="0.22"/>
<stop offset="0.4429" stop-color="#cef4fb" stop-opacity="0.22"/>
<stop offset="0.5932" stop-color="#a4d6f8" stop-opacity="0.08"/>
<stop offset="0.7319" stop-color="#7eaef4" stop-opacity="0.22"/>
<stop offset="0.8706" stop-color="#5e8ef0" stop-opacity="0.33"/>
<stop offset="1.0000" stop-color="#3860e8" stop-opacity="0.46"/>
</linearGradient>
<linearGradient id="h5" gradientUnits="userSpaceOnUse" x1="0" y1="273.4" x2="0" y2="706.0">
<stop offset="0.0000" stop-color="#ffffff" stop-opacity="0.22"/>
<stop offset="0.2464" stop-color="#fbffff" stop-opacity="0.22"/>
<stop offset="0.4082" stop-color="#c8f0fa" stop-opacity="0.22"/>
<stop offset="0.5932" stop-color="#98c8f6" stop-opacity="0.12"/>
<stop offset="0.7319" stop-color="#70a0f2" stop-opacity="0.26"/>
<stop offset="0.8706" stop-color="#5484f0" stop-opacity="0.37"/>
<stop offset="1.0000" stop-color="#3060e8" stop-opacity="0.48"/>
</linearGradient>
<linearGradient id="h6" gradientUnits="userSpaceOnUse" x1="0" y1="273.4" x2="0" y2="706.0">
<stop offset="0.0000" stop-color="#eefdfe" stop-opacity="0.22"/>
<stop offset="0.1308" stop-color="#d0f2fb" stop-opacity="0.22"/>
<stop offset="0.2349" stop-color="#9cccf6" stop-opacity="0.10"/>
<stop offset="0.3620" stop-color="#7aaaf4" stop-opacity="0.23"/>
<stop offset="0.4776" stop-color="#5c8cf0" stop-opacity="0.34"/>
<stop offset="0.6625" stop-color="#3c6aec" stop-opacity="0.45"/>
<stop offset="0.7353" stop-color="#2c5aea" stop-opacity="0.51"/>
<stop offset="0.7353" stop-color="#0909c8" stop-opacity="0.45"/>
<stop offset="1.0000" stop-color="#0909c8" stop-opacity="0.45"/>
</linearGradient>
<linearGradient id="h7" gradientUnits="userSpaceOnUse" x1="0" y1="273.4" x2="0" y2="706.0">
<stop offset="0.0000" stop-color="#d5f8fc" stop-opacity="0.22"/>
<stop offset="0.1308" stop-color="#b8e8f9" stop-opacity="0.22"/>
<stop offset="0.2349" stop-color="#a8dcf8" stop-opacity="0.06"/>
<stop offset="0.3620" stop-color="#84b8f4" stop-opacity="0.18"/>
<stop offset="0.4776" stop-color="#6696f2" stop-opacity="0.30"/>
<stop offset="0.6625" stop-color="#4070ee" stop-opacity="0.44"/>
<stop offset="0.7353" stop-color="#2e5cea" stop-opacity="0.50"/>
<stop offset="0.7353" stop-color="#0909c8" stop-opacity="0.45"/>
<stop offset="1.0000" stop-color="#0909c8" stop-opacity="0.45"/>
</linearGradient>
<linearGradient id="h8" gradientUnits="userSpaceOnUse" x1="0" y1="273.4" x2="0" y2="706.0">
<stop offset="0.0000" stop-color="#9fd4f5" stop-opacity="0.08"/>
<stop offset="0.1308" stop-color="#8cc0f4" stop-opacity="0.15"/>
<stop offset="0.2349" stop-color="#78aef0" stop-opacity="0.21"/>
<stop offset="0.4545" stop-color="#4c7cf0" stop-opacity="0.40"/>
<stop offset="0.5966" stop-color="#3060ea" stop-opacity="0.49"/>
<stop offset="0.5966" stop-color="#0909c8" stop-opacity="0.45"/>
<stop offset="0.8497" stop-color="#0909c8" stop-opacity="0.45"/>
<stop offset="0.8497" stop-color="#000098" stop-opacity="0.45"/>
<stop offset="1.0000" stop-color="#000098" stop-opacity="0.45"/>
</linearGradient>
<linearGradient id="h9" gradientUnits="userSpaceOnUse" x1="0" y1="273.4" x2="0" y2="706.0">
<stop offset="0.0000" stop-color="#aee6f7" stop-opacity="0.22"/>
<stop offset="0.1308" stop-color="#98ccf5" stop-opacity="0.11"/>
<stop offset="0.2349" stop-color="#88bcf4" stop-opacity="0.17"/>
<stop offset="0.4545" stop-color="#5282f0" stop-opacity="0.38"/>
<stop offset="0.5966" stop-color="#3464ea" stop-opacity="0.47"/>
<stop offset="0.5966" stop-color="#0909c8" stop-opacity="0.45"/>
<stop offset="0.8497" stop-color="#0909c8" stop-opacity="0.45"/>
<stop offset="0.8497" stop-color="#000098" stop-opacity="0.45"/>
<stop offset="1.0000" stop-color="#000098" stop-opacity="0.45"/>
</linearGradient>
<linearGradient id="h10" gradientUnits="userSpaceOnUse" x1="0" y1="273.4" x2="0" y2="706.0">
<stop offset="0.0000" stop-color="#7db2ef" stop-opacity="0.19"/>
<stop offset="0.1308" stop-color="#6a9cf0" stop-opacity="0.28"/>
<stop offset="0.2349" stop-color="#5080f0" stop-opacity="0.38"/>
<stop offset="0.4337" stop-color="#3060e8" stop-opacity="0.48"/>
<stop offset="0.4337" stop-color="#0909c8" stop-opacity="0.45"/>
<stop offset="0.6625" stop-color="#0909c8" stop-opacity="0.45"/>
<stop offset="0.6625" stop-color="#000098" stop-opacity="0.45"/>
<stop offset="1.0000" stop-color="#000098" stop-opacity="0.45"/>
</linearGradient>
<linearGradient id="h11" gradientUnits="userSpaceOnUse" x1="0" y1="273.4" x2="0" y2="706.0">
<stop offset="0.0000" stop-color="#8abcf3" stop-opacity="0.16"/>
<stop offset="0.1308" stop-color="#70a0f0" stop-opacity="0.26"/>
<stop offset="0.2349" stop-color="#5484f0" stop-opacity="0.37"/>
<stop offset="0.4337" stop-color="#3262e8" stop-opacity="0.47"/>
<stop offset="0.4337" stop-color="#0909c8" stop-opacity="0.45"/>
<stop offset="0.6625" stop-color="#0909c8" stop-opacity="0.45"/>
<stop offset="0.6625" stop-color="#000098" stop-opacity="0.45"/>
<stop offset="1.0000" stop-color="#000098" stop-opacity="0.45"/>
</linearGradient>
<linearGradient id="h12" gradientUnits="userSpaceOnUse" x1="0" y1="273.4" x2="0" y2="706.0">
<stop offset="0.0000" stop-color="#3a68e8" stop-opacity="0.44"/>
<stop offset="0.2302" stop-color="#2249f0" stop-opacity="0.59"/>
<stop offset="0.2302" stop-color="#0909c8" stop-opacity="0.45"/>
<stop offset="0.5076" stop-color="#0909c8" stop-opacity="0.45"/>
<stop offset="0.5076" stop-color="#000098" stop-opacity="0.45"/>
<stop offset="1.0000" stop-color="#000098" stop-opacity="0.45"/>
</linearGradient>
<linearGradient id="h13" gradientUnits="userSpaceOnUse" x1="0" y1="273.4" x2="0" y2="706.0">
<stop offset="0.0000" stop-color="#3a68e8" stop-opacity="0.44"/>
<stop offset="0.2302" stop-color="#2249f0" stop-opacity="0.59"/>
<stop offset="0.2302" stop-color="#0909c8" stop-opacity="0.45"/>
<stop offset="0.5076" stop-color="#0909c8" stop-opacity="0.45"/>
<stop offset="0.5076" stop-color="#000098" stop-opacity="0.45"/>
<stop offset="1.0000" stop-color="#000098" stop-opacity="0.45"/>
</linearGradient>
<linearGradient id="h14" gradientUnits="userSpaceOnUse" x1="0" y1="273.4" x2="0" y2="706.0">
<stop offset="0.0000" stop-color="#2249f0" stop-opacity="0.59"/>
<stop offset="0.1378" stop-color="#2249f0" stop-opacity="0.59"/>
<stop offset="0.1378" stop-color="#0909c8" stop-opacity="0.45"/>
<stop offset="0.3666" stop-color="#0909c8" stop-opacity="0.45"/>
<stop offset="0.3666" stop-color="#000098" stop-opacity="0.45"/>
<stop offset="1.0000" stop-color="#000098" stop-opacity="0.45"/>
</linearGradient>
<linearGradient id="h15" gradientUnits="userSpaceOnUse" x1="0" y1="273.4" x2="0" y2="706.0">
<stop offset="0.0000" stop-color="#2249f0" stop-opacity="0.59"/>
<stop offset="0.1378" stop-color="#2249f0" stop-opacity="0.59"/>
<stop offset="0.1378" stop-color="#0909c8" stop-opacity="0.45"/>
<stop offset="0.1886" stop-color="#0909c8" stop-opacity="0.45"/>
<stop offset="0.2094" stop-color="#000098" stop-opacity="0.45"/>
<stop offset="1.0000" stop-color="#000098" stop-opacity="0.45"/>
</linearGradient>
<linearGradient id="h16" gradientUnits="userSpaceOnUse" x1="0" y1="273.4" x2="0" y2="706.0">
<stop offset="0.0000" stop-color="#2249f0" stop-opacity="0.59"/>
<stop offset="0.1378" stop-color="#2249f0" stop-opacity="0.59"/>
<stop offset="0.1378" stop-color="#0909c8" stop-opacity="0.45"/>
<stop offset="0.1886" stop-color="#0909c8" stop-opacity="0.45"/>
<stop offset="0.2094" stop-color="#000098" stop-opacity="0.45"/>
<stop offset="1.0000" stop-color="#000098" stop-opacity="0.45"/>
</linearGradient>
<linearGradient id="h17" gradientUnits="userSpaceOnUse" x1="0" y1="273.4" x2="0" y2="706.0">
<stop offset="0.0000" stop-color="#2249f0" stop-opacity="0.59"/>
<stop offset="0.1378" stop-color="#2249f0" stop-opacity="0.59"/>
<stop offset="0.1378" stop-color="#0909c8" stop-opacity="0.45"/>
<stop offset="0.1886" stop-color="#0909c8" stop-opacity="0.45"/>
<stop offset="0.2094" stop-color="#000098" stop-opacity="0.45"/>
<stop offset="1.0000" stop-color="#000098" stop-opacity="0.45"/>
</linearGradient>
<linearGradient id="h18" gradientUnits="userSpaceOnUse" x1="0" y1="273.4" x2="0" y2="706.0">
<stop offset="0.0000" stop-color="#2249f0" stop-opacity="0.59"/>
<stop offset="0.1378" stop-color="#2249f0" stop-opacity="0.59"/>
<stop offset="0.1378" stop-color="#0909c8" stop-opacity="0.45"/>
<stop offset="0.1886" stop-color="#0909c8" stop-opacity="0.45"/>
<stop offset="0.2094" stop-color="#000098" stop-opacity="0.45"/>
<stop offset="1.0000" stop-color="#000098" stop-opacity="0.45"/>
</linearGradient>
<linearGradient id="h19" gradientUnits="userSpaceOnUse" x1="0" y1="273.4" x2="0" y2="706.0">
<stop offset="0.0000" stop-color="#2249f0" stop-opacity="0.59"/>
<stop offset="0.1378" stop-color="#2249f0" stop-opacity="0.59"/>
<stop offset="0.1378" stop-color="#0909c8" stop-opacity="0.45"/>
<stop offset="0.1886" stop-color="#0909c8" stop-opacity="0.45"/>
<stop offset="0.2094" stop-color="#000098" stop-opacity="0.45"/>
<stop offset="1.0000" stop-color="#000098" stop-opacity="0.45"/>
</linearGradient>
<linearGradient id="h20" gradientUnits="userSpaceOnUse" x1="0" y1="273.4" x2="0" y2="706.0">
<stop offset="0.0000" stop-color="#2249f0" stop-opacity="0.59"/>
<stop offset="0.1378" stop-color="#2249f0" stop-opacity="0.59"/>
<stop offset="0.1378" stop-color="#0909c8" stop-opacity="0.45"/>
<stop offset="0.1886" stop-color="#0909c8" stop-opacity="0.45"/>
<stop offset="0.2094" stop-color="#000098" stop-opacity="0.45"/>
<stop offset="1.0000" stop-color="#000098" stop-opacity="0.45"/>
</linearGradient>
</defs>
<rect x="472.15" y="165.0" width="277.05000000000007" height="541.8" fill="#fcd07c"/>
<rect x="478.59" y="273.4" width="6.74" height="433.40000000000003" fill="url(#g2)"/>
<rect x="485.03" y="273.4" width="6.74" height="433.40000000000003" fill="url(#g3)"/>
<rect x="491.47" y="273.4" width="6.74" height="433.40000000000003" fill="url(#g4)"/>
<rect x="497.91" y="273.4" width="6.74" height="433.40000000000003" fill="url(#g5)"/>
<rect x="504.35" y="273.4" width="6.74" height="433.40000000000003" fill="url(#g6)"/>
<rect x="510.79" y="273.4" width="6.74" height="433.40000000000003" fill="url(#g7)"/>
<rect x="517.23" y="273.4" width="6.74" height="433.40000000000003" fill="url(#g8)"/>
<rect x="523.67" y="273.4" width="6.74" height="433.40000000000003" fill="url(#g9)"/>
<rect x="530.11" y="273.4" width="6.74" height="433.40000000000003" fill="url(#g10)"/>
<rect x="536.55" y="273.4" width="6.74" height="433.40000000000003" fill="url(#g11)"/>
<rect x="542.99" y="273.4" width="6.74" height="433.40000000000003" fill="url(#g12)"/>
<rect x="549.43" y="273.4" width="6.74" height="433.40000000000003" fill="url(#g13)"/>
<rect x="555.87" y="273.4" width="6.74" height="433.40000000000003" fill="url(#g14)"/>
<rect x="562.31" y="273.4" width="6.74" height="433.40000000000003" fill="url(#g15)"/>
<rect x="568.75" y="273.4" width="6.74" height="433.40000000000003" fill="url(#g16)"/>
<rect x="575.19" y="273.4" width="6.74" height="433.40000000000003" fill="url(#g17)"/>
<rect x="581.63" y="273.4" width="6.74" height="433.40000000000003" fill="url(#g18)"/>
<rect x="588.07" y="273.4" width="6.74" height="433.40000000000003" fill="url(#g19)"/>
<rect x="594.51" y="273.4" width="6.74" height="433.40000000000003" fill="url(#g20)"/>
<rect x="600.95" y="273.4" width="6.74" height="433.40000000000003" fill="url(#g19)"/>
<rect x="607.39" y="273.4" width="6.74" height="433.40000000000003" fill="url(#g18)"/>
<rect x="613.83" y="273.4" width="6.74" height="433.40000000000003" fill="url(#g17)"/>
<rect x="620.27" y="273.4" width="6.74" height="433.40000000000003" fill="url(#g16)"/>
<rect x="626.71" y="273.4" width="6.74" height="433.40000000000003" fill="url(#g15)"/>
<rect x="633.15" y="273.4" width="6.74" height="433.40000000000003" fill="url(#g14)"/>
<rect x="639.59" y="273.4" width="6.74" height="433.40000000000003" fill="url(#g13)"/>
<rect x="646.03" y="273.4" width="6.74" height="433.40000000000003" fill="url(#g12)"/>
<rect x="652.47" y="273.4" width="6.74" height="433.40000000000003" fill="url(#g11)"/>
<rect x="658.91" y="273.4" width="6.74" height="433.40000000000003" fill="url(#g10)"/>
<rect x="665.35" y="273.4" width="6.74" height="433.40000000000003" fill="url(#g9)"/>
<rect x="671.79" y="273.4" width="6.74" height="433.40000000000003" fill="url(#g8)"/>
<rect x="678.23" y="273.4" width="6.74" height="433.40000000000003" fill="url(#g7)"/>
<rect x="684.67" y="273.4" width="6.74" height="433.40000000000003" fill="url(#g6)"/>
<rect x="691.11" y="273.4" width="6.74" height="433.40000000000003" fill="url(#g5)"/>
<rect x="697.55" y="273.4" width="6.74" height="433.40000000000003" fill="url(#g4)"/>
<rect x="703.99" y="273.4" width="6.74" height="433.40000000000003" fill="url(#g3)"/>
<rect x="710.43" y="273.4" width="6.74" height="433.40000000000003" fill="url(#g2)"/>
<line x1="472.35" y1="165.0" x2="472.35" y2="706.8" stroke="#3a2810" stroke-width="1.3"/>
<line x1="478.59" y1="165.0" x2="478.59" y2="706.8" stroke="#000" stroke-width="1" stroke-opacity="0.8" shape-rendering="crispEdges"/>
<line x1="485.03" y1="165.0" x2="485.03" y2="706.8" stroke="#000" stroke-width="1" stroke-opacity="0.8" shape-rendering="crispEdges"/>
<line x1="491.47" y1="165.0" x2="491.47" y2="706.8" stroke="#000" stroke-width="1" stroke-opacity="0.8" shape-rendering="crispEdges"/>
<line x1="497.91" y1="165.0" x2="497.91" y2="706.8" stroke="#000" stroke-width="1" stroke-opacity="0.8" shape-rendering="crispEdges"/>
<line x1="504.35" y1="165.0" x2="504.35" y2="706.8" stroke="#000" stroke-width="1.55" stroke-opacity="0.9"/>
<line x1="510.79" y1="165.0" x2="510.79" y2="706.8" stroke="#000" stroke-width="1" stroke-opacity="0.8" shape-rendering="crispEdges"/>
<line x1="517.23" y1="165.0" x2="517.23" y2="706.8" stroke="#000" stroke-width="1" stroke-opacity="0.8" shape-rendering="crispEdges"/>
<line x1="523.67" y1="165.0" x2="523.67" y2="706.8" stroke="#000" stroke-width="1.55" stroke-opacity="0.9"/>
<line x1="530.11" y1="165.0" x2="530.11" y2="706.8" stroke="#000" stroke-width="1" stroke-opacity="0.8" shape-rendering="crispEdges"/>
<line x1="536.55" y1="165.0" x2="536.55" y2="706.8" stroke="#000" stroke-width="1" stroke-opacity="0.8" shape-rendering="crispEdges"/>
<line x1="542.99" y1="165.0" x2="542.99" y2="706.8" stroke="#000" stroke-width="1.55" stroke-opacity="0.9"/>
<line x1="549.43" y1="165.0" x2="549.43" y2="706.8" stroke="#000" stroke-width="1" stroke-opacity="0.8" shape-rendering="crispEdges"/>
<line x1="555.87" y1="165.0" x2="555.87" y2="706.8" stroke="#000" stroke-width="1" stroke-opacity="0.8" shape-rendering="crispEdges"/>
<line x1="562.31" y1="165.0" x2="562.31" y2="706.8" stroke="#000" stroke-width="1.55" stroke-opacity="0.9"/>
<line x1="568.75" y1="165.0" x2="568.75" y2="706.8" stroke="#000" stroke-width="1" stroke-opacity="0.8" shape-rendering="crispEdges"/>
<line x1="575.19" y1="165.0" x2="575.19" y2="706.8" stroke="#000" stroke-width="1" stroke-opacity="0.8" shape-rendering="crispEdges"/>
<line x1="581.63" y1="165.0" x2="581.63" y2="706.8" stroke="#000" stroke-width="1.55" stroke-opacity="0.9"/>
<line x1="588.07" y1="165.0" x2="588.07" y2="706.8" stroke="#000" stroke-width="1" stroke-opacity="0.8" shape-rendering="crispEdges"/>
<line x1="594.51" y1="165.0" x2="594.51" y2="706.8" stroke="#000" stroke-width="1" stroke-opacity="0.8" shape-rendering="crispEdges"/>
<line x1="600.95" y1="165.0" x2="600.95" y2="706.8" stroke="#000" stroke-width="1.55" stroke-opacity="0.9"/>
<line x1="607.39" y1="165.0" x2="607.39" y2="706.8" stroke="#000" stroke-width="1" stroke-opacity="0.8" shape-rendering="crispEdges"/>
<line x1="613.83" y1="165.0" x2="613.83" y2="706.8" stroke="#000" stroke-width="1" stroke-opacity="0.8" shape-rendering="crispEdges"/>
<line x1="620.27" y1="165.0" x2="620.27" y2="706.8" stroke="#000" stroke-width="1.55" stroke-opacity="0.9"/>
<line x1="626.71" y1="165.0" x2="626.71" y2="706.8" stroke="#000" stroke-width="1" stroke-opacity="0.8" shape-rendering="crispEdges"/>
<line x1="633.15" y1="165.0" x2="633.15" y2="706.8" stroke="#000" stroke-width="1" stroke-opacity="0.8" shape-rendering="crispEdges"/>
<line x1="639.59" y1="165.0" x2="639.59" y2="706.8" stroke="#000" stroke-width="1.55" stroke-opacity="0.9"/>
<line x1="646.03" y1="165.0" x2="646.03" y2="706.8" stroke="#000" stroke-width="1" stroke-opacity="0.8" shape-rendering="crispEdges"/>
<line x1="652.47" y1="165.0" x2="652.47" y2="706.8" stroke="#000" stroke-width="1" stroke-opacity="0.8" shape-rendering="crispEdges"/>
<line x1="658.91" y1="165.0" x2="658.91" y2="706.8" stroke="#000" stroke-width="1.55" stroke-opacity="0.9"/>
<line x1="665.35" y1="165.0" x2="665.35" y2="706.8" stroke="#000" stroke-width="1" stroke-opacity="0.8" shape-rendering="crispEdges"/>
<line x1="671.79" y1="165.0" x2="671.79" y2="706.8" stroke="#000" stroke-width="1" stroke-opacity="0.8" shape-rendering="crispEdges"/>
<line x1="678.23" y1="165.0" x2="678.23" y2="706.8" stroke="#000" stroke-width="1.55" stroke-opacity="0.9"/>
<line x1="684.67" y1="165.0" x2="684.67" y2="706.8" stroke="#000" stroke-width="1" stroke-opacity="0.8" shape-rendering="crispEdges"/>
<line x1="691.11" y1="165.0" x2="691.11" y2="706.8" stroke="#000" stroke-width="1" stroke-opacity="0.8" shape-rendering="crispEdges"/>
<line x1="697.55" y1="165.0" x2="697.55" y2="706.8" stroke="#000" stroke-width="1.55" stroke-opacity="0.9"/>
<line x1="703.99" y1="165.0" x2="703.99" y2="706.8" stroke="#000" stroke-width="1" stroke-opacity="0.8" shape-rendering="crispEdges"/>
<line x1="710.43" y1="165.0" x2="710.43" y2="706.8" stroke="#000" stroke-width="1" stroke-opacity="0.8" shape-rendering="crispEdges"/>
<line x1="716.87" y1="165.0" x2="716.87" y2="706.8" stroke="#000" stroke-width="1.55" stroke-opacity="0.9"/>
<line x1="722.40" y1="165.0" x2="722.40" y2="706.8" stroke="#4a3a20" stroke-width="1" stroke-opacity="0.85"/>
<line x1="472.15" y1="210" x2="722.9" y2="210" stroke="#000" stroke-width="1.5" stroke-opacity="0.9"/>
<line x1="472.15" y1="254.3" x2="722.9" y2="254.3" stroke="#000" stroke-width="1.5" stroke-opacity="0.9"/>
<line x1="472.15" y1="303.6" x2="722.9" y2="303.6" stroke="#000" stroke-width="1.5" stroke-opacity="0.9"/>
<line x1="472.15" y1="353.6" x2="722.9" y2="353.6" stroke="#000" stroke-width="1.5" stroke-opacity="0.9"/>
<line x1="472.15" y1="402.8" x2="722.9" y2="402.8" stroke="#000" stroke-width="1.5" stroke-opacity="0.9"/>
<line x1="472.15" y1="452.4" x2="722.9" y2="452.4" stroke="#000" stroke-width="1.5" stroke-opacity="0.9"/>
<line x1="472.15" y1="501.9" x2="722.9" y2="501.9" stroke="#000" stroke-width="1.5" stroke-opacity="0.9"/>
<line x1="472.15" y1="551.7" x2="722.9" y2="551.7" stroke="#000" stroke-width="1.5" stroke-opacity="0.9"/>
<line x1="472.15" y1="601.5" x2="722.9" y2="601.5" stroke="#000" stroke-width="1.5" stroke-opacity="0.9"/>
<line x1="472.15" y1="651" x2="722.9" y2="651" stroke="#000" stroke-width="1.5" stroke-opacity="0.9"/>
<line x1="472.15" y1="700.7" x2="722.9" y2="700.7" stroke="#000" stroke-width="1.5" stroke-opacity="0.9"/>
<rect x="478.19" y="273.4" width="7.24" height="433.40000000000003" fill="url(#h2)"/>
<rect x="484.63" y="273.4" width="7.24" height="433.40000000000003" fill="url(#h3)"/>
<rect x="491.07" y="273.4" width="7.24" height="433.40000000000003" fill="url(#h4)"/>
<rect x="497.51" y="273.4" width="7.24" height="433.40000000000003" fill="url(#h5)"/>
<rect x="503.95" y="273.4" width="7.24" height="433.40000000000003" fill="url(#h6)"/>
<rect x="510.39" y="273.4" width="7.24" height="433.40000000000003" fill="url(#h7)"/>
<rect x="516.83" y="273.4" width="7.24" height="433.40000000000003" fill="url(#h8)"/>
<rect x="523.27" y="273.4" width="7.24" height="433.40000000000003" fill="url(#h9)"/>
<rect x="529.71" y="273.4" width="7.24" height="433.40000000000003" fill="url(#h10)"/>
<rect x="536.15" y="273.4" width="7.24" height="433.40000000000003" fill="url(#h11)"/>
<rect x="542.59" y="273.4" width="7.24" height="433.40000000000003" fill="url(#h12)"/>
<rect x="549.03" y="273.4" width="7.24" height="433.40000000000003" fill="url(#h13)"/>
<rect x="555.47" y="273.4" width="7.24" height="433.40000000000003" fill="url(#h14)"/>
<rect x="561.91" y="273.4" width="7.24" height="433.40000000000003" fill="url(#h15)"/>
<rect x="568.35" y="273.4" width="7.24" height="433.40000000000003" fill="url(#h16)"/>
<rect x="574.79" y="273.4" width="7.24" height="433.40000000000003" fill="url(#h17)"/>
<rect x="581.23" y="273.4" width="7.24" height="433.40000000000003" fill="url(#h18)"/>
<rect x="587.67" y="273.4" width="7.24" height="433.40000000000003" fill="url(#h19)"/>
<rect x="594.11" y="273.4" width="7.24" height="433.40000000000003" fill="url(#h20)"/>
<rect x="600.55" y="273.4" width="7.24" height="433.40000000000003" fill="url(#h19)"/>
<rect x="606.99" y="273.4" width="7.24" height="433.40000000000003" fill="url(#h18)"/>
<rect x="613.43" y="273.4" width="7.24" height="433.40000000000003" fill="url(#h17)"/>
<rect x="619.87" y="273.4" width="7.24" height="433.40000000000003" fill="url(#h16)"/>
<rect x="626.31" y="273.4" width="7.24" height="433.40000000000003" fill="url(#h15)"/>
<rect x="632.75" y="273.4" width="7.24" height="433.40000000000003" fill="url(#h14)"/>
<rect x="639.19" y="273.4" width="7.24" height="433.40000000000003" fill="url(#h13)"/>
<rect x="645.63" y="273.4" width="7.24" height="433.40000000000003" fill="url(#h12)"/>
<rect x="652.07" y="273.4" width="7.24" height="433.40000000000003" fill="url(#h11)"/>
<rect x="658.51" y="273.4" width="7.24" height="433.40000000000003" fill="url(#h10)"/>
<rect x="664.95" y="273.4" width="7.24" height="433.40000000000003" fill="url(#h9)"/>
<rect x="671.39" y="273.4" width="7.24" height="433.40000000000003" fill="url(#h8)"/>
<rect x="677.83" y="273.4" width="7.24" height="433.40000000000003" fill="url(#h7)"/>
<rect x="684.27" y="273.4" width="7.24" height="433.40000000000003" fill="url(#h6)"/>
<rect x="690.71" y="273.4" width="7.24" height="433.40000000000003" fill="url(#h5)"/>
<rect x="697.15" y="273.4" width="7.24" height="433.40000000000003" fill="url(#h4)"/>
<rect x="703.59" y="273.4" width="7.24" height="433.40000000000003" fill="url(#h3)"/>
<rect x="710.03" y="273.4" width="7.24" height="433.40000000000003" fill="url(#h2)"/>
<line x1="504.35" y1="273.4" x2="504.35" y2="706.8" stroke="#000" stroke-width="1.4" stroke-opacity="0.38"/>
<line x1="523.67" y1="273.4" x2="523.67" y2="706.8" stroke="#000" stroke-width="1.4" stroke-opacity="0.38"/>
<line x1="542.99" y1="273.4" x2="542.99" y2="706.8" stroke="#000" stroke-width="1.4" stroke-opacity="0.38"/>
<line x1="562.31" y1="273.4" x2="562.31" y2="706.8" stroke="#000" stroke-width="1.4" stroke-opacity="0.38"/>
<line x1="581.63" y1="273.4" x2="581.63" y2="706.8" stroke="#000" stroke-width="1.4" stroke-opacity="0.38"/>
<line x1="600.95" y1="273.4" x2="600.95" y2="706.8" stroke="#000" stroke-width="1.4" stroke-opacity="0.38"/>
<line x1="620.27" y1="273.4" x2="620.27" y2="706.8" stroke="#000" stroke-width="1.4" stroke-opacity="0.38"/>
<line x1="639.59" y1="273.4" x2="639.59" y2="706.8" stroke="#000" stroke-width="1.4" stroke-opacity="0.38"/>
<line x1="658.91" y1="273.4" x2="658.91" y2="706.8" stroke="#000" stroke-width="1.4" stroke-opacity="0.38"/>
<line x1="678.23" y1="273.4" x2="678.23" y2="706.8" stroke="#000" stroke-width="1.4" stroke-opacity="0.38"/>
<line x1="697.55" y1="273.4" x2="697.55" y2="706.8" stroke="#000" stroke-width="1.4" stroke-opacity="0.38"/>
<line x1="716.87" y1="273.4" x2="716.87" y2="706.8" stroke="#000" stroke-width="1.4" stroke-opacity="0.38"/>
<line x1="472.15" y1="303.6" x2="722.9" y2="303.6" stroke="#000" stroke-width="1.5" stroke-opacity="0.4"/>
<line x1="472.15" y1="353.6" x2="722.9" y2="353.6" stroke="#000" stroke-width="1.5" stroke-opacity="0.4"/>
<line x1="472.15" y1="402.8" x2="722.9" y2="402.8" stroke="#000" stroke-width="1.5" stroke-opacity="0.4"/>
<line x1="472.15" y1="452.4" x2="722.9" y2="452.4" stroke="#000" stroke-width="1.5" stroke-opacity="0.4"/>
<line x1="472.15" y1="501.9" x2="722.9" y2="501.9" stroke="#000" stroke-width="1.5" stroke-opacity="0.4"/>
<line x1="472.15" y1="551.7" x2="722.9" y2="551.7" stroke="#000" stroke-width="1.5" stroke-opacity="0.4"/>
<line x1="472.15" y1="601.5" x2="722.9" y2="601.5" stroke="#000" stroke-width="1.5" stroke-opacity="0.4"/>
<line x1="472.15" y1="651" x2="722.9" y2="651" stroke="#000" stroke-width="1.5" stroke-opacity="0.4"/>
<line x1="472.15" y1="700.7" x2="722.9" y2="700.7" stroke="#000" stroke-width="1.5" stroke-opacity="0.4"/>
<line x1="471.75" y1="165.3" x2="722.9" y2="165.3" stroke="#1a1208" stroke-width="1.5"/>
<line x1="749.3" y1="165.0" x2="749.3" y2="706.8" stroke="#555" stroke-width="1.3"/>
<rect x="472.5" y="165.6" width="5.9" height="8.8" fill="#000"/><rect x="474" y="166.6" width="3.4" height="5.2" fill="#fcd07c"/>
<rect x="726.4" y="195.5" width="19.6" height="22.4" fill="#f3f1f3"/>
<text x="729" y="211.4" font-family="Liberation Sans, sans-serif" font-size="10.3" font-weight="bold" fill="#222">55</text>
<rect x="726.4" y="281.8" width="19.6" height="22.4" fill="#f3f1f3"/>
<text x="729" y="297.7" font-family="Liberation Sans, sans-serif" font-size="10.3" font-weight="bold" fill="#222">45</text>
<rect x="726.4" y="373.3" width="19.6" height="22.4" fill="#f3f1f3"/>
<text x="729" y="389.2" font-family="Liberation Sans, sans-serif" font-size="10.3" font-weight="bold" fill="#222">35</text>
<rect x="726.4" y="464.3" width="19.6" height="22.4" fill="#f3f1f3"/>
<text x="729" y="480.2" font-family="Liberation Sans, sans-serif" font-size="10.3" font-weight="bold" fill="#222">25</text>
<rect x="726.4" y="557.3" width="19.6" height="22.4" fill="#f3f1f3"/>
<text x="729" y="573.2" font-family="Liberation Sans, sans-serif" font-size="10.3" font-weight="bold" fill="#222">15</text>
<rect x="726.4" y="648.4" width="19.6" height="22.4" fill="#f3f1f3"/>
<text x="729" y="664.3" font-family="Liberation Sans, sans-serif" font-size="10.3" font-weight="bold" fill="#222">5</text>
</svg>
<!-- gen_bottom -->
<div class="zt" style="left:37px;top:708.5px;width:712px;height:56px"></div>
<div class="zh" style="left:38px;top:747.8px;width:710px"></div>
<div class="zv" style="left:128px;top:709.5px;height:54px"></div>
<div class="zv" style="left:235.5px;top:709.5px;height:54px"></div>
<div class="zv" style="left:337.6px;top:709.5px;height:54px"></div>
<div class="zv" style="left:437.5px;top:709.5px;height:54px"></div>
<div class="zv" style="left:538.4px;top:709.5px;height:54px"></div>
<div class="zv" style="left:639.4px;top:709.5px;height:54px"></div>
<div class="zc" style="left:37.5px;width:90.5px;top:713.6px">Item</div>
<div class="zc" style="left:40.0px;top:732.0px;text-align:left">Description</div>
<div class="zc" style="left:40.0px;top:751.3px;text-align:left">Track Zone Ratio</div>
<div class="zc" style="left:128px;width:107.5px;top:713.6px">3L-7L:18L-18R</div>
<div class="zc" style="left:128px;width:107.5px;top:732.0px">Outside Track:Middle</div>
<div class="zc" style="left:128px;width:107.5px;top:751.3px">8.33</div>
<div class="zc" style="left:235.5px;width:102.10000000000002px;top:713.6px">8L-12L:18L-18R</div>
<div class="zc" style="left:235.5px;width:102.10000000000002px;top:732.0px">Middle Track:Middle</div>
<div class="zc" style="left:235.5px;width:102.10000000000002px;top:751.3px">1.79</div>
<div class="zc" style="left:337.6px;width:99.89999999999998px;top:713.6px">13L-17L:18L-18R</div>
<div class="zc" style="left:337.6px;width:99.89999999999998px;top:732.0px">Inside Track:Middle</div>
<div class="zc" style="left:337.6px;width:99.89999999999998px;top:751.3px">1.06</div>
<div class="zc" style="left:437.5px;width:100.89999999999998px;top:713.6px">18L-18R:17R-13R</div>
<div class="zc" style="left:437.5px;width:100.89999999999998px;top:732.0px">Middle: Inside Track</div>
<div class="zc" style="left:437.5px;width:100.89999999999998px;top:751.3px">1.06</div>
<div class="zc" style="left:538.4px;width:101.0px;top:713.6px">18L-18R:12R-8R</div>
<div class="zc" style="left:538.4px;width:101.0px;top:732.0px">Middle:Middle Track</div>
<div class="zc" style="left:538.4px;width:101.0px;top:751.3px">1.79</div>
<div class="zc" style="left:639.4px;width:109.10000000000002px;top:713.6px">18L-18R:7R-3R</div>
<div class="zc" style="left:639.4px;width:109.10000000000002px;top:732.0px">Middle:Outside Track</div>
<div class="zc" style="left:639.4px;width:109.10000000000002px;top:751.3px">8.33</div>
<div class="cb" style="left:39px;top:762px;width:711px;height:209px"></div>
<svg width="791" height="1024" viewBox="0 0 791 1024" style="position:absolute;left:0;top:0" font-family="Liberation Sans, sans-serif">
<rect x="47" y="771" width="687" height="199.29999999999995" fill="#fcfcfc"/>
<rect x="85.5" y="799.5" width="636.7" height="170.79999999999995" fill="#ffffff"/>
<text x="74.5" y="785" font-size="10.5" fill="#4adccc" textLength="58.7" lengthAdjust="spacingAndGlyphs">Forward Oil</text>
<text x="158.6" y="785" font-size="10.5" font-weight="bold" fill="#1a1a9a" textLength="58.2" lengthAdjust="spacingAndGlyphs">Reverse Oil</text>
<line x1="81.5" y1="799.50" x2="85.5" y2="799.50" stroke="#000" stroke-width="1.1"/>
<text x="78.5" y="803.10" text-anchor="end" font-size="9.8" font-weight="bold" fill="#111">1500</text>
<line x1="85.5" y1="817.34" x2="722.2" y2="817.34" stroke="#4a3636" stroke-width="0.95" stroke-dasharray="2 1.1"/>
<line x1="81.5" y1="817.34" x2="85.5" y2="817.34" stroke="#000" stroke-width="1.1"/>
<text x="78.5" y="820.94" text-anchor="end" font-size="9.8" font-weight="bold" fill="#111">1350</text>
<line x1="85.5" y1="835.17" x2="722.2" y2="835.17" stroke="#4a3636" stroke-width="0.95" stroke-dasharray="2 1.1"/>
<line x1="81.5" y1="835.17" x2="85.5" y2="835.17" stroke="#000" stroke-width="1.1"/>
<text x="78.5" y="838.77" text-anchor="end" font-size="9.8" font-weight="bold" fill="#111">1200</text>
<line x1="85.5" y1="853.00" x2="722.2" y2="853.00" stroke="#4a3636" stroke-width="0.95" stroke-dasharray="2 1.1"/>
<line x1="81.5" y1="853.00" x2="85.5" y2="853.00" stroke="#000" stroke-width="1.1"/>
<text x="78.5" y="856.61" text-anchor="end" font-size="9.8" font-weight="bold" fill="#111">1050</text>
<line x1="85.5" y1="870.84" x2="722.2" y2="870.84" stroke="#4a3636" stroke-width="0.95" stroke-dasharray="2 1.1"/>
<line x1="81.5" y1="870.84" x2="85.5" y2="870.84" stroke="#000" stroke-width="1.1"/>
<text x="78.5" y="874.44" text-anchor="end" font-size="9.8" font-weight="bold" fill="#111">900</text>
<line x1="85.5" y1="888.67" x2="722.2" y2="888.67" stroke="#4a3636" stroke-width="0.95" stroke-dasharray="2 1.1"/>
<line x1="81.5" y1="888.67" x2="85.5" y2="888.67" stroke="#000" stroke-width="1.1"/>
<text x="78.5" y="892.27" text-anchor="end" font-size="9.8" font-weight="bold" fill="#111">750</text>
<line x1="85.5" y1="906.51" x2="722.2" y2="906.51" stroke="#4a3636" stroke-width="0.95" stroke-dasharray="2 1.1"/>
<line x1="81.5" y1="906.51" x2="85.5" y2="906.51" stroke="#000" stroke-width="1.1"/>
<text x="78.5" y="910.11" text-anchor="end" font-size="9.8" font-weight="bold" fill="#111">600</text>
<line x1="85.5" y1="924.35" x2="722.2" y2="924.35" stroke="#4a3636" stroke-width="0.95" stroke-dasharray="2 1.1"/>
<line x1="81.5" y1="924.35" x2="85.5" y2="924.35" stroke="#000" stroke-width="1.1"/>
<text x="78.5" y="927.95" text-anchor="end" font-size="9.8" font-weight="bold" fill="#111">450</text>
<line x1="85.5" y1="942.18" x2="722.2" y2="942.18" stroke="#4a3636" stroke-width="0.95" stroke-dasharray="2 1.1"/>
<line x1="81.5" y1="942.18" x2="85.5" y2="942.18" stroke="#000" stroke-width="1.1"/>
<text x="78.5" y="945.78" text-anchor="end" font-size="9.8" font-weight="bold" fill="#111">300</text>
<line x1="85.5" y1="960.01" x2="722.2" y2="960.01" stroke="#4a3636" stroke-width="0.95" stroke-dasharray="2 1.1"/>
<line x1="81.5" y1="960.01" x2="85.5" y2="960.01" stroke="#000" stroke-width="1.1"/>
<text x="78.5" y="963.62" text-anchor="end" font-size="9.8" font-weight="bold" fill="#111">150</text>
<line x1="85.50" y1="795.3" x2="85.50" y2="799.5" stroke="#000" stroke-width="1.3"/>
<text x="85.50" y="792.3" text-anchor="middle" font-size="9.6" fill="#222">0</text>
<line x1="101.20" y1="799.5" x2="101.20" y2="970.3" stroke="#000" stroke-width="0.9" stroke-opacity="0.9" stroke-dasharray="1.6 1.2"/>
<line x1="101.20" y1="795.3" x2="101.20" y2="799.5" stroke="#000" stroke-width="1.3"/>
<text x="101.20" y="792.3" text-anchor="middle" font-size="9.6" fill="#222">1</text>
<line x1="116.91" y1="799.5" x2="116.91" y2="970.3" stroke="#000" stroke-width="0.9" stroke-opacity="0.9" stroke-dasharray="1.6 1.2"/>
<line x1="116.91" y1="795.3" x2="116.91" y2="799.5" stroke="#000" stroke-width="1.3"/>
<text x="116.91" y="792.3" text-anchor="middle" font-size="9.6" fill="#222">2</text>
<line x1="132.62" y1="799.5" x2="132.62" y2="970.3" stroke="#000" stroke-width="0.9" stroke-opacity="0.9" stroke-dasharray="1.6 1.2"/>
<line x1="132.62" y1="795.3" x2="132.62" y2="799.5" stroke="#000" stroke-width="1.3"/>
<text x="132.62" y="792.3" text-anchor="middle" font-size="9.6" fill="#222">3</text>
<line x1="148.32" y1="799.5" x2="148.32" y2="970.3" stroke="#000" stroke-width="0.9" stroke-opacity="0.9" stroke-dasharray="1.6 1.2"/>
<line x1="148.32" y1="795.3" x2="148.32" y2="799.5" stroke="#000" stroke-width="1.3"/>
<text x="148.32" y="792.3" text-anchor="middle" font-size="9.6" fill="#222">4</text>
<line x1="164.03" y1="799.5" x2="164.03" y2="970.3" stroke="#000" stroke-width="0.9" stroke-opacity="0.9" stroke-dasharray="1.6 1.2"/>
<line x1="164.03" y1="795.3" x2="164.03" y2="799.5" stroke="#000" stroke-width="1.3"/>
<text x="164.03" y="792.3" text-anchor="middle" font-size="9.6" fill="#222">5</text>
<line x1="179.73" y1="799.5" x2="179.73" y2="970.3" stroke="#000" stroke-width="0.9" stroke-opacity="0.9" stroke-dasharray="1.6 1.2"/>
<line x1="179.73" y1="795.3" x2="179.73" y2="799.5" stroke="#000" stroke-width="1.3"/>
<text x="179.73" y="792.3" text-anchor="middle" font-size="9.6" fill="#222">6</text>
<line x1="195.44" y1="799.5" x2="195.44" y2="970.3" stroke="#000" stroke-width="0.9" stroke-opacity="0.9" stroke-dasharray="1.6 1.2"/>
<line x1="195.44" y1="795.3" x2="195.44" y2="799.5" stroke="#000" stroke-width="1.3"/>
<text x="195.44" y="792.3" text-anchor="middle" font-size="9.6" fill="#222">7</text>
<line x1="211.14" y1="799.5" x2="211.14" y2="970.3" stroke="#000" stroke-width="0.9" stroke-opacity="0.9" stroke-dasharray="1.6 1.2"/>
<line x1="211.14" y1="795.3" x2="211.14" y2="799.5" stroke="#000" stroke-width="1.3"/>
<text x="211.14" y="792.3" text-anchor="middle" font-size="9.6" fill="#222">8</text>
<line x1="226.84" y1="799.5" x2="226.84" y2="970.3" stroke="#000" stroke-width="0.9" stroke-opacity="0.9" stroke-dasharray="1.6 1.2"/>
<line x1="226.84" y1="795.3" x2="226.84" y2="799.5" stroke="#000" stroke-width="1.3"/>
<text x="226.84" y="792.3" text-anchor="middle" font-size="9.6" fill="#222">9</text>
<line x1="242.55" y1="799.5" x2="242.55" y2="970.3" stroke="#000" stroke-width="0.9" stroke-opacity="0.9" stroke-dasharray="1.6 1.2"/>
<line x1="242.55" y1="795.3" x2="242.55" y2="799.5" stroke="#000" stroke-width="1.3"/>
<text x="242.55" y="792.3" text-anchor="middle" font-size="9.6" fill="#222">10</text>
<line x1="258.25" y1="799.5" x2="258.25" y2="970.3" stroke="#000" stroke-width="0.9" stroke-opacity="0.9" stroke-dasharray="1.6 1.2"/>
<line x1="258.25" y1="795.3" x2="258.25" y2="799.5" stroke="#000" stroke-width="1.3"/>
<text x="258.25" y="792.3" text-anchor="middle" font-size="9.6" fill="#222">11</text>
<line x1="273.96" y1="799.5" x2="273.96" y2="970.3" stroke="#000" stroke-width="0.9" stroke-opacity="0.9" stroke-dasharray="1.6 1.2"/>
<line x1="273.96" y1="795.3" x2="273.96" y2="799.5" stroke="#000" stroke-width="1.3"/>
<text x="273.96" y="792.3" text-anchor="middle" font-size="9.6" fill="#222">12</text>
<line x1="289.66" y1="799.5" x2="289.66" y2="970.3" stroke="#000" stroke-width="0.9" stroke-opacity="0.9" stroke-dasharray="1.6 1.2"/>
<line x1="289.66" y1="795.3" x2="289.66" y2="799.5" stroke="#000" stroke-width="1.3"/>
<text x="289.66" y="792.3" text-anchor="middle" font-size="9.6" fill="#222">13</text>
<line x1="305.37" y1="799.5" x2="305.37" y2="970.3" stroke="#000" stroke-width="0.9" stroke-opacity="0.9" stroke-dasharray="1.6 1.2"/>
<line x1="305.37" y1="795.3" x2="305.37" y2="799.5" stroke="#000" stroke-width="1.3"/>
<text x="305.37" y="792.3" text-anchor="middle" font-size="9.6" fill="#222">14</text>
<line x1="321.07" y1="799.5" x2="321.07" y2="970.3" stroke="#000" stroke-width="0.9" stroke-opacity="0.9" stroke-dasharray="1.6 1.2"/>
<line x1="321.07" y1="795.3" x2="321.07" y2="799.5" stroke="#000" stroke-width="1.3"/>
<text x="321.07" y="792.3" text-anchor="middle" font-size="9.6" fill="#222">15</text>
<line x1="336.78" y1="799.5" x2="336.78" y2="970.3" stroke="#000" stroke-width="0.9" stroke-opacity="0.9" stroke-dasharray="1.6 1.2"/>
<line x1="336.78" y1="795.3" x2="336.78" y2="799.5" stroke="#000" stroke-width="1.3"/>
<text x="336.78" y="792.3" text-anchor="middle" font-size="9.6" fill="#222">16</text>
<line x1="352.49" y1="799.5" x2="352.49" y2="970.3" stroke="#000" stroke-width="0.9" stroke-opacity="0.9" stroke-dasharray="1.6 1.2"/>
<line x1="352.49" y1="795.3" x2="352.49" y2="799.5" stroke="#000" stroke-width="1.3"/>
<text x="352.49" y="792.3" text-anchor="middle" font-size="9.6" fill="#222">17</text>
<line x1="368.19" y1="799.5" x2="368.19" y2="970.3" stroke="#000" stroke-width="0.9" stroke-opacity="0.9" stroke-dasharray="1.6 1.2"/>
<line x1="368.19" y1="795.3" x2="368.19" y2="799.5" stroke="#000" stroke-width="1.3"/>
<text x="368.19" y="792.3" text-anchor="middle" font-size="9.6" fill="#222">18</text>
<line x1="383.89" y1="799.5" x2="383.89" y2="970.3" stroke="#000" stroke-width="0.9" stroke-opacity="0.9" stroke-dasharray="1.6 1.2"/>
<line x1="383.89" y1="795.3" x2="383.89" y2="799.5" stroke="#000" stroke-width="1.3"/>
<text x="383.89" y="792.3" text-anchor="middle" font-size="9.6" fill="#222">19</text>
<line x1="399.60" y1="799.5" x2="399.60" y2="970.3" stroke="#000" stroke-width="0.9" stroke-opacity="0.9" stroke-dasharray="1.6 1.2"/>
<line x1="399.60" y1="795.3" x2="399.60" y2="799.5" stroke="#000" stroke-width="1.3"/>
<text x="399.60" y="792.3" text-anchor="middle" font-size="9.6" fill="#222">20</text>
<line x1="415.31" y1="799.5" x2="415.31" y2="970.3" stroke="#000" stroke-width="0.9" stroke-opacity="0.9" stroke-dasharray="1.6 1.2"/>
<line x1="415.31" y1="795.3" x2="415.31" y2="799.5" stroke="#000" stroke-width="1.3"/>
<text x="415.31" y="792.3" text-anchor="middle" font-size="9.6" fill="#222">19</text>
<line x1="431.01" y1="799.5" x2="431.01" y2="970.3" stroke="#000" stroke-width="0.9" stroke-opacity="0.9" stroke-dasharray="1.6 1.2"/>
<line x1="431.01" y1="795.3" x2="431.01" y2="799.5" stroke="#000" stroke-width="1.3"/>
<text x="431.01" y="792.3" text-anchor="middle" font-size="9.6" fill="#222">18</text>
<line x1="446.71" y1="799.5" x2="446.71" y2="970.3" stroke="#000" stroke-width="0.9" stroke-opacity="0.9" stroke-dasharray="1.6 1.2"/>
<line x1="446.71" y1="795.3" x2="446.71" y2="799.5" stroke="#000" stroke-width="1.3"/>
<text x="446.71" y="792.3" text-anchor="middle" font-size="9.6" fill="#222">17</text>
<line x1="462.42" y1="799.5" x2="462.42" y2="970.3" stroke="#000" stroke-width="0.9" stroke-opacity="0.9" stroke-dasharray="1.6 1.2"/>
<line x1="462.42" y1="795.3" x2="462.42" y2="799.5" stroke="#000" stroke-width="1.3"/>
<text x="462.42" y="792.3" text-anchor="middle" font-size="9.6" fill="#222">16</text>
<line x1="478.12" y1="799.5" x2="478.12" y2="970.3" stroke="#000" stroke-width="0.9" stroke-opacity="0.9" stroke-dasharray="1.6 1.2"/>
<line x1="478.12" y1="795.3" x2="478.12" y2="799.5" stroke="#000" stroke-width="1.3"/>
<text x="478.12" y="792.3" text-anchor="middle" font-size="9.6" fill="#222">15</text>
<line x1="493.83" y1="799.5" x2="493.83" y2="970.3" stroke="#000" stroke-width="0.9" stroke-opacity="0.9" stroke-dasharray="1.6 1.2"/>
<line x1="493.83" y1="795.3" x2="493.83" y2="799.5" stroke="#000" stroke-width="1.3"/>
<text x="493.83" y="792.3" text-anchor="middle" font-size="9.6" fill="#222">14</text>
<line x1="509.54" y1="799.5" x2="509.54" y2="970.3" stroke="#000" stroke-width="0.9" stroke-opacity="0.9" stroke-dasharray="1.6 1.2"/>
<line x1="509.54" y1="795.3" x2="509.54" y2="799.5" stroke="#000" stroke-width="1.3"/>
<text x="509.54" y="792.3" text-anchor="middle" font-size="9.6" fill="#222">13</text>
<line x1="525.24" y1="799.5" x2="525.24" y2="970.3" stroke="#000" stroke-width="0.9" stroke-opacity="0.9" stroke-dasharray="1.6 1.2"/>
<line x1="525.24" y1="795.3" x2="525.24" y2="799.5" stroke="#000" stroke-width="1.3"/>
<text x="525.24" y="792.3" text-anchor="middle" font-size="9.6" fill="#222">12</text>
<line x1="540.94" y1="799.5" x2="540.94" y2="970.3" stroke="#000" stroke-width="0.9" stroke-opacity="0.9" stroke-dasharray="1.6 1.2"/>
<line x1="540.94" y1="795.3" x2="540.94" y2="799.5" stroke="#000" stroke-width="1.3"/>
<text x="540.94" y="792.3" text-anchor="middle" font-size="9.6" fill="#222">11</text>
<line x1="556.65" y1="799.5" x2="556.65" y2="970.3" stroke="#000" stroke-width="0.9" stroke-opacity="0.9" stroke-dasharray="1.6 1.2"/>
<line x1="556.65" y1="795.3" x2="556.65" y2="799.5" stroke="#000" stroke-width="1.3"/>
<text x="556.65" y="792.3" text-anchor="middle" font-size="9.6" fill="#222">10</text>
<line x1="572.36" y1="799.5" x2="572.36" y2="970.3" stroke="#000" stroke-width="0.9" stroke-opacity="0.9" stroke-dasharray="1.6 1.2"/>
<line x1="572.36" y1="795.3" x2="572.36" y2="799.5" stroke="#000" stroke-width="1.3"/>
<text x="572.36" y="792.3" text-anchor="middle" font-size="9.6" fill="#222">9</text>
<line x1="588.06" y1="799.5" x2="588.06" y2="970.3" stroke="#000" stroke-width="0.9" stroke-opacity="0.9" stroke-dasharray="1.6 1.2"/>
<line x1="588.06" y1="795.3" x2="588.06" y2="799.5" stroke="#000" stroke-width="1.3"/>
<text x="588.06" y="792.3" text-anchor="middle" font-size="9.6" fill="#222">8</text>
<line x1="603.76" y1="799.5" x2="603.76" y2="970.3" stroke="#000" stroke-width="0.9" stroke-opacity="0.9" stroke-dasharray="1.6 1.2"/>
<line x1="603.76" y1="795.3" x2="603.76" y2="799.5" stroke="#000" stroke-width="1.3"/>
<text x="603.76" y="792.3" text-anchor="middle" font-size="9.6" fill="#222">7</text>
<line x1="619.47" y1="799.5" x2="619.47" y2="970.3" stroke="#000" stroke-width="0.9" stroke-opacity="0.9" stroke-dasharray="1.6 1.2"/>
<line x1="619.47" y1="795.3" x2="619.47" y2="799.5" stroke="#000" stroke-width="1.3"/>
<text x="619.47" y="792.3" text-anchor="middle" font-size="9.6" fill="#222">6</text>
<line x1="635.17" y1="799.5" x2="635.17" y2="970.3" stroke="#000" stroke-width="0.9" stroke-opacity="0.9" stroke-dasharray="1.6 1.2"/>
<line x1="635.17" y1="795.3" x2="635.17" y2="799.5" stroke="#000" stroke-width="1.3"/>
<text x="635.17" y="792.3" text-anchor="middle" font-size="9.6" fill="#222">5</text>
<line x1="650.88" y1="799.5" x2="650.88" y2="970.3" stroke="#000" stroke-width="0.9" stroke-opacity="0.9" stroke-dasharray="1.6 1.2"/>
<line x1="650.88" y1="795.3" x2="650.88" y2="799.5" stroke="#000" stroke-width="1.3"/>
<text x="650.88" y="792.3" text-anchor="middle" font-size="9.6" fill="#222">4</text>
<line x1="666.59" y1="799.5" x2="666.59" y2="970.3" stroke="#000" stroke-width="0.9" stroke-opacity="0.9" stroke-dasharray="1.6 1.2"/>
<line x1="666.59" y1="795.3" x2="666.59" y2="799.5" stroke="#000" stroke-width="1.3"/>
<text x="666.59" y="792.3" text-anchor="middle" font-size="9.6" fill="#222">3</text>
<line x1="682.29" y1="799.5" x2="682.29" y2="970.3" stroke="#000" stroke-width="0.9" stroke-opacity="0.9" stroke-dasharray="1.6 1.2"/>
<line x1="682.29" y1="795.3" x2="682.29" y2="799.5" stroke="#000" stroke-width="1.3"/>
<text x="682.29" y="792.3" text-anchor="middle" font-size="9.6" fill="#222">2</text>
<line x1="698.00" y1="799.5" x2="698.00" y2="970.3" stroke="#000" stroke-width="0.9" stroke-opacity="0.9" stroke-dasharray="1.6 1.2"/>
<line x1="698.00" y1="795.3" x2="698.00" y2="799.5" stroke="#000" stroke-width="1.3"/>
<text x="698.00" y="792.3" text-anchor="middle" font-size="9.6" fill="#222">1</text>
<line x1="713.70" y1="799.5" x2="713.70" y2="970.3" stroke="#000" stroke-width="0.9" stroke-opacity="0.9" stroke-dasharray="1.6 1.2"/>
<line x1="713.70" y1="795.3" x2="713.70" y2="799.5" stroke="#000" stroke-width="1.3"/>
<text x="713.70" y="792.3" text-anchor="middle" font-size="9.6" fill="#222">0</text>
<line x1="84.6" y1="799.5" x2="722.7" y2="799.5" stroke="#000" stroke-width="1.6"/>
<line x1="85.5" y1="799.0" x2="85.5" y2="970.3" stroke="#000" stroke-width="1.6"/>
<line x1="722.2" y1="796.5" x2="722.2" y2="970.3" stroke="#333" stroke-width="1"/>
<rect x="159.83" y="963.58" width="8.4" height="6.72" fill="#16c8c8" stroke="#0a5a5a" stroke-width="0.6"/>
<rect x="175.53" y="954.07" width="8.4" height="9.51" fill="#0505d0" stroke="#00004a" stroke-width="0.6"/>
<rect x="175.53" y="963.58" width="8.4" height="6.72" fill="#16c8c8" stroke="#0a5a5a" stroke-width="0.6"/>
<rect x="191.24" y="954.07" width="8.4" height="9.51" fill="#0505d0" stroke="#00004a" stroke-width="0.6"/>
<rect x="191.24" y="963.58" width="8.4" height="6.72" fill="#16c8c8" stroke="#0a5a5a" stroke-width="0.6"/>
<rect x="206.94" y="930.29" width="8.4" height="19.02" fill="#0505d0" stroke="#00004a" stroke-width="0.6"/>
<rect x="206.94" y="949.31" width="8.4" height="20.99" fill="#16c8c8" stroke="#0a5a5a" stroke-width="0.6"/>
<rect x="222.65" y="930.29" width="8.4" height="19.02" fill="#0505d0" stroke="#00004a" stroke-width="0.6"/>
<rect x="222.65" y="949.31" width="8.4" height="20.99" fill="#16c8c8" stroke="#0a5a5a" stroke-width="0.6"/>
<rect x="238.35" y="906.51" width="8.4" height="28.54" fill="#0505d0" stroke="#00004a" stroke-width="0.6"/>
<rect x="238.35" y="935.05" width="8.4" height="35.25" fill="#16c8c8" stroke="#0a5a5a" stroke-width="0.6"/>
<rect x="254.06" y="906.51" width="8.4" height="28.54" fill="#0505d0" stroke="#00004a" stroke-width="0.6"/>
<rect x="254.06" y="935.05" width="8.4" height="35.25" fill="#16c8c8" stroke="#0a5a5a" stroke-width="0.6"/>
<rect x="269.76" y="882.73" width="8.4" height="38.05" fill="#0505d0" stroke="#00004a" stroke-width="0.6"/>
<rect x="269.76" y="920.78" width="8.4" height="49.52" fill="#16c8c8" stroke="#0a5a5a" stroke-width="0.6"/>
<rect x="285.46" y="882.73" width="8.4" height="38.05" fill="#0505d0" stroke="#00004a" stroke-width="0.6"/>
<rect x="285.46" y="920.78" width="8.4" height="49.52" fill="#16c8c8" stroke="#0a5a5a" stroke-width="0.6"/>
<rect x="301.17" y="868.46" width="8.4" height="42.80" fill="#0505d0" stroke="#00004a" stroke-width="0.6"/>
<rect x="301.17" y="911.27" width="8.4" height="59.03" fill="#16c8c8" stroke="#0a5a5a" stroke-width="0.6"/>
<rect x="316.88" y="858.95" width="8.4" height="42.80" fill="#0505d0" stroke="#00004a" stroke-width="0.6"/>
<rect x="316.88" y="901.75" width="8.4" height="68.55" fill="#16c8c8" stroke="#0a5a5a" stroke-width="0.6"/>
<rect x="332.58" y="858.95" width="8.4" height="42.80" fill="#0505d0" stroke="#00004a" stroke-width="0.6"/>
<rect x="332.58" y="901.75" width="8.4" height="68.55" fill="#16c8c8" stroke="#0a5a5a" stroke-width="0.6"/>
<rect x="348.29" y="858.95" width="8.4" height="42.80" fill="#0505d0" stroke="#00004a" stroke-width="0.6"/>
<rect x="348.29" y="901.75" width="8.4" height="68.55" fill="#16c8c8" stroke="#0a5a5a" stroke-width="0.6"/>
<rect x="363.99" y="858.95" width="8.4" height="42.80" fill="#0505d0" stroke="#00004a" stroke-width="0.6"/>
<rect x="363.99" y="901.75" width="8.4" height="68.55" fill="#16c8c8" stroke="#0a5a5a" stroke-width="0.6"/>
<rect x="379.69" y="858.95" width="8.4" height="42.80" fill="#0505d0" stroke="#00004a" stroke-width="0.6"/>
<rect x="379.69" y="901.75" width="8.4" height="68.55" fill="#16c8c8" stroke="#0a5a5a" stroke-width="0.6"/>
<rect x="395.40" y="858.95" width="8.4" height="42.80" fill="#0505d0" stroke="#00004a" stroke-width="0.6"/>
<rect x="395.40" y="901.75" width="8.4" height="68.55" fill="#16c8c8" stroke="#0a5a5a" stroke-width="0.6"/>
<rect x="411.11" y="858.95" width="8.4" height="42.80" fill="#0505d0" stroke="#00004a" stroke-width="0.6"/>
<rect x="411.11" y="901.75" width="8.4" height="68.55" fill="#16c8c8" stroke="#0a5a5a" stroke-width="0.6"/>
<rect x="426.81" y="858.95" width="8.4" height="42.80" fill="#0505d0" stroke="#00004a" stroke-width="0.6"/>
<rect x="426.81" y="901.75" width="8.4" height="68.55" fill="#16c8c8" stroke="#0a5a5a" stroke-width="0.6"/>
<rect x="442.51" y="858.95" width="8.4" height="42.80" fill="#0505d0" stroke="#00004a" stroke-width="0.6"/>
<rect x="442.51" y="901.75" width="8.4" height="68.55" fill="#16c8c8" stroke="#0a5a5a" stroke-width="0.6"/>
<rect x="458.22" y="858.95" width="8.4" height="42.80" fill="#0505d0" stroke="#00004a" stroke-width="0.6"/>
<rect x="458.22" y="901.75" width="8.4" height="68.55" fill="#16c8c8" stroke="#0a5a5a" stroke-width="0.6"/>
<rect x="473.93" y="858.95" width="8.4" height="42.80" fill="#0505d0" stroke="#00004a" stroke-width="0.6"/>
<rect x="473.93" y="901.75" width="8.4" height="68.55" fill="#16c8c8" stroke="#0a5a5a" stroke-width="0.6"/>
<rect x="489.63" y="868.46" width="8.4" height="42.80" fill="#0505d0" stroke="#00004a" stroke-width="0.6"/>
<rect x="489.63" y="911.27" width="8.4" height="59.03" fill="#16c8c8" stroke="#0a5a5a" stroke-width="0.6"/>
<rect x="505.34" y="882.73" width="8.4" height="38.05" fill="#0505d0" stroke="#00004a" stroke-width="0.6"/>
<rect x="505.34" y="920.78" width="8.4" height="49.52" fill="#16c8c8" stroke="#0a5a5a" stroke-width="0.6"/>
<rect x="521.04" y="882.73" width="8.4" height="38.05" fill="#0505d0" stroke="#00004a" stroke-width="0.6"/>
<rect x="521.04" y="920.78" width="8.4" height="49.52" fill="#16c8c8" stroke="#0a5a5a" stroke-width="0.6"/>
<rect x="536.74" y="906.51" width="8.4" height="28.54" fill="#0505d0" stroke="#00004a" stroke-width="0.6"/>
<rect x="536.74" y="935.05" width="8.4" height="35.25" fill="#16c8c8" stroke="#0a5a5a" stroke-width="0.6"/>
<rect x="552.45" y="906.51" width="8.4" height="28.54" fill="#0505d0" stroke="#00004a" stroke-width="0.6"/>
<rect x="552.45" y="935.05" width="8.4" height="35.25" fill="#16c8c8" stroke="#0a5a5a" stroke-width="0.6"/>
<rect x="568.15" y="930.29" width="8.4" height="19.02" fill="#0505d0" stroke="#00004a" stroke-width="0.6"/>
<rect x="568.15" y="949.31" width="8.4" height="20.99" fill="#16c8c8" stroke="#0a5a5a" stroke-width="0.6"/>
<rect x="583.86" y="930.29" width="8.4" height="19.02" fill="#0505d0" stroke="#00004a" stroke-width="0.6"/>
<rect x="583.86" y="949.31" width="8.4" height="20.99" fill="#16c8c8" stroke="#0a5a5a" stroke-width="0.6"/>
<rect x="599.56" y="954.07" width="8.4" height="9.51" fill="#0505d0" stroke="#00004a" stroke-width="0.6"/>
<rect x="599.56" y="963.58" width="8.4" height="6.72" fill="#16c8c8" stroke="#0a5a5a" stroke-width="0.6"/>
<rect x="615.27" y="954.07" width="8.4" height="9.51" fill="#0505d0" stroke="#00004a" stroke-width="0.6"/>
<rect x="615.27" y="963.58" width="8.4" height="6.72" fill="#16c8c8" stroke="#0a5a5a" stroke-width="0.6"/>
<rect x="630.97" y="963.58" width="8.4" height="6.72" fill="#16c8c8" stroke="#0a5a5a" stroke-width="0.6"/>
</svg>
</body></html>
